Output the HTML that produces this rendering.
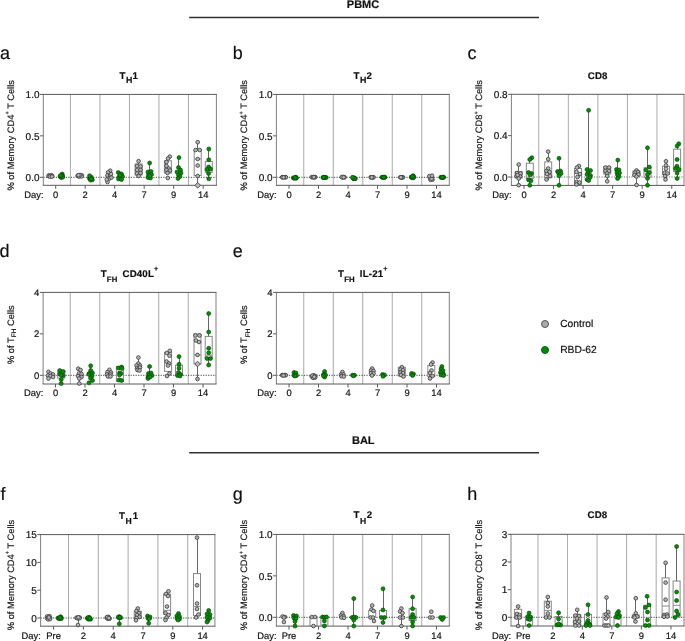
<!DOCTYPE html><html><head><meta charset="utf-8"><style>html,body{margin:0;padding:0;background:#fff;}svg{display:block;will-change:transform;}text{font-family:"Liberation Sans",sans-serif;fill:#111;stroke:#111;stroke-width:0.18px;text-rendering:geometricPrecision;}</style></head><body>
<svg width="685" height="641" viewBox="0 0 685 641">
<rect width="685" height="641" fill="#fff"/>
<line x1="70.45" y1="94.4" x2="70.45" y2="185.3" stroke="#aaa" stroke-width="1"/>
<line x1="99.95" y1="94.4" x2="99.95" y2="185.3" stroke="#aaa" stroke-width="1"/>
<line x1="129.45" y1="94.4" x2="129.45" y2="185.3" stroke="#aaa" stroke-width="1"/>
<line x1="158.95" y1="94.4" x2="158.95" y2="185.3" stroke="#aaa" stroke-width="1"/>
<line x1="188.45" y1="94.4" x2="188.45" y2="185.3" stroke="#aaa" stroke-width="1"/>
<line x1="43.3" y1="177.3" x2="216.4" y2="177.3" stroke="#333" stroke-width="0.9" stroke-dasharray="1.2 1.3"/>
<path d="M43.3 94.4V185.3M216.4 94.4V185.3" fill="none" stroke="#808080" stroke-width="1"/>
<path d="M42.8 94.4H216.9M42.8 185.3H216.9" fill="none" stroke="#5a5a5a" stroke-width="1"/>
<circle cx="48.88" cy="175.43" r="1.85" fill="#b5b5b5" stroke="#404040" stroke-width="0.85"/>
<circle cx="51.5" cy="175.3" r="1.85" fill="#b5b5b5" stroke="#404040" stroke-width="0.85"/>
<circle cx="52.2" cy="176.01" r="1.85" fill="#b5b5b5" stroke="#404040" stroke-width="0.85"/>
<circle cx="48.7" cy="176.14" r="1.85" fill="#b5b5b5" stroke="#404040" stroke-width="0.85"/>
<circle cx="50.45" cy="175.95" r="1.85" fill="#b5b5b5" stroke="#404040" stroke-width="0.85"/>
<circle cx="49.93" cy="176.6" r="1.85" fill="#b5b5b5" stroke="#404040" stroke-width="0.85"/>
<circle cx="52.03" cy="176.53" r="1.85" fill="#b5b5b5" stroke="#404040" stroke-width="0.85"/>
<circle cx="62.18" cy="174" r="2.0" fill="#009000" stroke="#043a04" stroke-width="0.6"/>
<circle cx="62.7" cy="175.93" r="2.0" fill="#009000" stroke="#043a04" stroke-width="0.6"/>
<circle cx="60.1" cy="176.28" r="2.0" fill="#009000" stroke="#043a04" stroke-width="0.6"/>
<circle cx="61.4" cy="175.75" r="2.0" fill="#009000" stroke="#043a04" stroke-width="0.6"/>
<circle cx="61.01" cy="177.5" r="2.0" fill="#009000" stroke="#043a04" stroke-width="0.6"/>
<circle cx="62.57" cy="177.32" r="2.0" fill="#009000" stroke="#043a04" stroke-width="0.6"/>
<circle cx="61.66" cy="175.4" r="2.0" fill="#009000" stroke="#043a04" stroke-width="0.6"/>
<circle cx="60.62" cy="175.57" r="2.0" fill="#009000" stroke="#043a04" stroke-width="0.6"/>
<circle cx="81.8" cy="175.43" r="1.85" fill="#b5b5b5" stroke="#404040" stroke-width="0.85"/>
<circle cx="77.6" cy="175.69" r="1.85" fill="#b5b5b5" stroke="#404040" stroke-width="0.85"/>
<circle cx="79.7" cy="175.3" r="1.85" fill="#b5b5b5" stroke="#404040" stroke-width="0.85"/>
<circle cx="79.07" cy="176.6" r="1.85" fill="#b5b5b5" stroke="#404040" stroke-width="0.85"/>
<circle cx="81.59" cy="176.47" r="1.85" fill="#b5b5b5" stroke="#404040" stroke-width="0.85"/>
<circle cx="80.12" cy="175.04" r="1.85" fill="#b5b5b5" stroke="#404040" stroke-width="0.85"/>
<circle cx="78.44" cy="175.17" r="1.85" fill="#b5b5b5" stroke="#404040" stroke-width="0.85"/>
<circle cx="89.4" cy="178.42" r="2.0" fill="#009000" stroke="#043a04" stroke-width="0.6"/>
<circle cx="90.95" cy="177.7" r="2.0" fill="#009000" stroke="#043a04" stroke-width="0.6"/>
<circle cx="90.48" cy="180.1" r="2.0" fill="#009000" stroke="#043a04" stroke-width="0.6"/>
<circle cx="92.34" cy="179.86" r="2.0" fill="#009000" stroke="#043a04" stroke-width="0.6"/>
<circle cx="91.26" cy="177.22" r="2.0" fill="#009000" stroke="#043a04" stroke-width="0.6"/>
<circle cx="90.02" cy="177.46" r="2.0" fill="#009000" stroke="#043a04" stroke-width="0.6"/>
<circle cx="91.57" cy="178.9" r="2.0" fill="#009000" stroke="#043a04" stroke-width="0.6"/>
<circle cx="89.56" cy="175.78" r="2.0" fill="#009000" stroke="#043a04" stroke-width="0.6"/>
<circle cx="110.2" cy="170.7" r="1.85" fill="#b5b5b5" stroke="#404040" stroke-width="0.85"/>
<circle cx="108" cy="172.5" r="1.85" fill="#b5b5b5" stroke="#404040" stroke-width="0.85"/>
<circle cx="107.5" cy="175.5" r="1.85" fill="#b5b5b5" stroke="#404040" stroke-width="0.85"/>
<circle cx="110" cy="176" r="1.85" fill="#b5b5b5" stroke="#404040" stroke-width="0.85"/>
<circle cx="109.5" cy="178.5" r="1.85" fill="#b5b5b5" stroke="#404040" stroke-width="0.85"/>
<circle cx="111.5" cy="177.5" r="1.85" fill="#b5b5b5" stroke="#404040" stroke-width="0.85"/>
<circle cx="107.5" cy="182" r="1.85" fill="#b5b5b5" stroke="#404040" stroke-width="0.85"/>
<circle cx="106.8" cy="179.5" r="1.85" fill="#b5b5b5" stroke="#404040" stroke-width="0.85"/>
<circle cx="111" cy="174" r="1.85" fill="#b5b5b5" stroke="#404040" stroke-width="0.85"/>
<circle cx="118.3" cy="172.5" r="2.0" fill="#009000" stroke="#043a04" stroke-width="0.6"/>
<circle cx="121.5" cy="174" r="2.0" fill="#009000" stroke="#043a04" stroke-width="0.6"/>
<circle cx="119" cy="177" r="2.0" fill="#009000" stroke="#043a04" stroke-width="0.6"/>
<circle cx="122.5" cy="176.5" r="2.0" fill="#009000" stroke="#043a04" stroke-width="0.6"/>
<circle cx="118.5" cy="179" r="2.0" fill="#009000" stroke="#043a04" stroke-width="0.6"/>
<circle cx="121.5" cy="179.5" r="2.0" fill="#009000" stroke="#043a04" stroke-width="0.6"/>
<circle cx="120" cy="175" r="2.0" fill="#009000" stroke="#043a04" stroke-width="0.6"/>
<rect x="135.1" y="164" width="7" height="11" fill="none" stroke="#888" stroke-width="1"/>
<line x1="138.5" y1="161.2" x2="138.5" y2="164" stroke="#666" stroke-width="1"/>
<circle cx="138.6" cy="161.2" r="1.85" fill="#b5b5b5" stroke="#404040" stroke-width="0.85"/>
<circle cx="137" cy="166" r="1.85" fill="#b5b5b5" stroke="#404040" stroke-width="0.85"/>
<circle cx="140.5" cy="166.5" r="1.85" fill="#b5b5b5" stroke="#404040" stroke-width="0.85"/>
<circle cx="137" cy="170" r="1.85" fill="#b5b5b5" stroke="#404040" stroke-width="0.85"/>
<circle cx="140.5" cy="170" r="1.85" fill="#b5b5b5" stroke="#404040" stroke-width="0.85"/>
<circle cx="137" cy="173.5" r="1.85" fill="#b5b5b5" stroke="#404040" stroke-width="0.85"/>
<circle cx="140.5" cy="173" r="1.85" fill="#b5b5b5" stroke="#404040" stroke-width="0.85"/>
<circle cx="138.6" cy="176" r="1.85" fill="#b5b5b5" stroke="#404040" stroke-width="0.85"/>
<line x1="149.5" y1="163" x2="149.5" y2="171" stroke="#666" stroke-width="1"/>
<circle cx="149.6" cy="163" r="2.0" fill="#009000" stroke="#043a04" stroke-width="0.6"/>
<circle cx="148" cy="172" r="2.0" fill="#009000" stroke="#043a04" stroke-width="0.6"/>
<circle cx="151" cy="171.5" r="2.0" fill="#009000" stroke="#043a04" stroke-width="0.6"/>
<circle cx="148.5" cy="175" r="2.0" fill="#009000" stroke="#043a04" stroke-width="0.6"/>
<circle cx="151.5" cy="174.5" r="2.0" fill="#009000" stroke="#043a04" stroke-width="0.6"/>
<circle cx="148" cy="177.5" r="2.0" fill="#009000" stroke="#043a04" stroke-width="0.6"/>
<circle cx="150.5" cy="178" r="2.0" fill="#009000" stroke="#043a04" stroke-width="0.6"/>
<circle cx="149.6" cy="176" r="2.0" fill="#009000" stroke="#043a04" stroke-width="0.6"/>
<rect x="164.4" y="160.8" width="7" height="12.3" fill="none" stroke="#888" stroke-width="1"/>
<circle cx="169.8" cy="156.6" r="1.85" fill="#b5b5b5" stroke="#404040" stroke-width="0.85"/>
<circle cx="168" cy="158.5" r="1.85" fill="#b5b5b5" stroke="#404040" stroke-width="0.85"/>
<circle cx="166.5" cy="162" r="1.85" fill="#b5b5b5" stroke="#404040" stroke-width="0.85"/>
<circle cx="166.5" cy="166" r="1.85" fill="#b5b5b5" stroke="#404040" stroke-width="0.85"/>
<circle cx="168.8" cy="168.5" r="1.85" fill="#b5b5b5" stroke="#404040" stroke-width="0.85"/>
<circle cx="166.5" cy="170" r="1.85" fill="#b5b5b5" stroke="#404040" stroke-width="0.85"/>
<circle cx="170" cy="170.5" r="1.85" fill="#b5b5b5" stroke="#404040" stroke-width="0.85"/>
<circle cx="167.5" cy="173" r="1.85" fill="#b5b5b5" stroke="#404040" stroke-width="0.85"/>
<circle cx="167.8" cy="178" r="1.85" fill="#b5b5b5" stroke="#404040" stroke-width="0.85"/>
<line x1="178.5" y1="157.6" x2="178.5" y2="168" stroke="#666" stroke-width="1"/>
<circle cx="179" cy="157.6" r="2.0" fill="#009000" stroke="#043a04" stroke-width="0.6"/>
<circle cx="178.5" cy="167.5" r="2.0" fill="#009000" stroke="#043a04" stroke-width="0.6"/>
<circle cx="180.5" cy="170" r="2.0" fill="#009000" stroke="#043a04" stroke-width="0.6"/>
<circle cx="177" cy="172" r="2.0" fill="#009000" stroke="#043a04" stroke-width="0.6"/>
<circle cx="181" cy="173" r="2.0" fill="#009000" stroke="#043a04" stroke-width="0.6"/>
<circle cx="178.5" cy="175" r="2.0" fill="#009000" stroke="#043a04" stroke-width="0.6"/>
<circle cx="180" cy="176.5" r="2.0" fill="#009000" stroke="#043a04" stroke-width="0.6"/>
<circle cx="178" cy="178.5" r="2.0" fill="#009000" stroke="#043a04" stroke-width="0.6"/>
<rect x="194.2" y="149.5" width="7" height="26" fill="none" stroke="#888" stroke-width="1"/>
<line x1="194.2" y1="159" x2="201.2" y2="159" stroke="#888" stroke-width="1"/>
<line x1="197.5" y1="142.2" x2="197.5" y2="149.5" stroke="#666" stroke-width="1"/>
<line x1="197.5" y1="175.5" x2="197.5" y2="185.3" stroke="#666" stroke-width="1"/>
<circle cx="197.7" cy="142.2" r="1.85" fill="#b5b5b5" stroke="#404040" stroke-width="0.85"/>
<circle cx="195.6" cy="150" r="1.85" fill="#b5b5b5" stroke="#404040" stroke-width="0.85"/>
<circle cx="199.7" cy="150" r="1.85" fill="#b5b5b5" stroke="#404040" stroke-width="0.85"/>
<circle cx="197.7" cy="159" r="1.85" fill="#b5b5b5" stroke="#404040" stroke-width="0.85"/>
<circle cx="197.7" cy="165.5" r="1.85" fill="#b5b5b5" stroke="#404040" stroke-width="0.85"/>
<circle cx="197.7" cy="176" r="1.85" fill="#b5b5b5" stroke="#404040" stroke-width="0.85"/>
<path d="M197.7 182.45L200.55 185.3L197.7 188.15L194.85 185.3Z" fill="#b5b5b5" stroke="#404040" stroke-width="0.85"/>
<rect x="205.3" y="161.4" width="7" height="10.9" fill="none" stroke="#888" stroke-width="1"/>
<line x1="205.3" y1="170" x2="212.3" y2="170" stroke="#888" stroke-width="1"/>
<line x1="208.5" y1="149" x2="208.5" y2="161.4" stroke="#666" stroke-width="1"/>
<line x1="208.5" y1="172.3" x2="208.5" y2="178.8" stroke="#666" stroke-width="1"/>
<circle cx="208.8" cy="149" r="2.0" fill="#009000" stroke="#043a04" stroke-width="0.6"/>
<circle cx="208.8" cy="159.8" r="2.0" fill="#009000" stroke="#043a04" stroke-width="0.6"/>
<circle cx="208.6" cy="167" r="2.0" fill="#009000" stroke="#043a04" stroke-width="0.6"/>
<circle cx="207" cy="169.5" r="2.0" fill="#009000" stroke="#043a04" stroke-width="0.6"/>
<circle cx="210.5" cy="169" r="2.0" fill="#009000" stroke="#043a04" stroke-width="0.6"/>
<circle cx="208.6" cy="173.5" r="2.0" fill="#009000" stroke="#043a04" stroke-width="0.6"/>
<circle cx="208.8" cy="178.8" r="2.0" fill="#009000" stroke="#043a04" stroke-width="0.6"/>
<line x1="40" y1="94.4" x2="43.3" y2="94.4" stroke="#5a5a5a" stroke-width="1"/>
<text x="39.5" y="98.2" text-anchor="end" font-size="10">1.0</text>
<line x1="40" y1="135.85" x2="43.3" y2="135.85" stroke="#5a5a5a" stroke-width="1"/>
<text x="39.5" y="139.65" text-anchor="end" font-size="10">0.5</text>
<line x1="40" y1="177.3" x2="43.3" y2="177.3" stroke="#5a5a5a" stroke-width="1"/>
<text x="39.5" y="181.1" text-anchor="end" font-size="10">0.0</text>
<line x1="55.7" y1="185.3" x2="55.7" y2="188.8" stroke="#5a5a5a" stroke-width="1"/>
<text x="55.7" y="197.8" text-anchor="middle" font-size="9.4">0</text>
<line x1="85.2" y1="185.3" x2="85.2" y2="188.8" stroke="#5a5a5a" stroke-width="1"/>
<text x="85.2" y="197.8" text-anchor="middle" font-size="9.4">2</text>
<line x1="114.7" y1="185.3" x2="114.7" y2="188.8" stroke="#5a5a5a" stroke-width="1"/>
<text x="114.7" y="197.8" text-anchor="middle" font-size="9.4">4</text>
<line x1="144.2" y1="185.3" x2="144.2" y2="188.8" stroke="#5a5a5a" stroke-width="1"/>
<text x="144.2" y="197.8" text-anchor="middle" font-size="9.4">7</text>
<line x1="173.7" y1="185.3" x2="173.7" y2="188.8" stroke="#5a5a5a" stroke-width="1"/>
<text x="173.7" y="197.8" text-anchor="middle" font-size="9.4">9</text>
<line x1="203.2" y1="185.3" x2="203.2" y2="188.8" stroke="#5a5a5a" stroke-width="1"/>
<text x="203.2" y="197.8" text-anchor="middle" font-size="9.4">14</text>
<text x="43.5" y="197.8" text-anchor="end" font-size="9.4">Day:</text>
<text x="128.75" y="79" text-anchor="middle" font-size="9.7" font-weight="bold" letter-spacing="0.15">T<tspan font-size="8.8" dy="3.7" dx="0.5">H</tspan><tspan dy="-3.7">1</tspan></text>
<text transform="translate(14,135.3) rotate(-90)" text-anchor="middle" font-size="9.3">% of Memory CD4<tspan font-size="5.6" dy="-4.6">+</tspan><tspan dy="4.6"> T Cells</tspan></text>
<text x="0" y="58.6" font-size="18">a</text>
<line x1="303.75" y1="94.4" x2="303.75" y2="185.3" stroke="#aaa" stroke-width="1"/>
<line x1="333.25" y1="94.4" x2="333.25" y2="185.3" stroke="#aaa" stroke-width="1"/>
<line x1="362.75" y1="94.4" x2="362.75" y2="185.3" stroke="#aaa" stroke-width="1"/>
<line x1="392.25" y1="94.4" x2="392.25" y2="185.3" stroke="#aaa" stroke-width="1"/>
<line x1="421.75" y1="94.4" x2="421.75" y2="185.3" stroke="#aaa" stroke-width="1"/>
<line x1="276.4" y1="177.3" x2="449.3" y2="177.3" stroke="#333" stroke-width="0.9" stroke-dasharray="1.2 1.3"/>
<path d="M276.4 94.4V185.3M449.3 94.4V185.3" fill="none" stroke="#808080" stroke-width="1"/>
<path d="M275.9 94.4H449.8M275.9 185.3H449.8" fill="none" stroke="#5a5a5a" stroke-width="1"/>
<circle cx="282.38" cy="177.17" r="1.85" fill="#b5b5b5" stroke="#404040" stroke-width="0.85"/>
<circle cx="285.16" cy="177.15" r="1.85" fill="#b5b5b5" stroke="#404040" stroke-width="0.85"/>
<circle cx="285.9" cy="177.26" r="1.85" fill="#b5b5b5" stroke="#404040" stroke-width="0.85"/>
<circle cx="282.2" cy="177.28" r="1.85" fill="#b5b5b5" stroke="#404040" stroke-width="0.85"/>
<circle cx="284.05" cy="177.25" r="1.85" fill="#b5b5b5" stroke="#404040" stroke-width="0.85"/>
<circle cx="283.5" cy="177.35" r="1.85" fill="#b5b5b5" stroke="#404040" stroke-width="0.85"/>
<circle cx="295.78" cy="177.2" r="2.0" fill="#009000" stroke="#043a04" stroke-width="0.6"/>
<circle cx="296.4" cy="177.81" r="2.0" fill="#009000" stroke="#043a04" stroke-width="0.6"/>
<circle cx="293.3" cy="177.91" r="2.0" fill="#009000" stroke="#043a04" stroke-width="0.6"/>
<circle cx="294.85" cy="177.75" r="2.0" fill="#009000" stroke="#043a04" stroke-width="0.6"/>
<circle cx="294.39" cy="178.3" r="2.0" fill="#009000" stroke="#043a04" stroke-width="0.6"/>
<circle cx="296.25" cy="178.25" r="2.0" fill="#009000" stroke="#043a04" stroke-width="0.6"/>
<circle cx="295.16" cy="177.64" r="2.0" fill="#009000" stroke="#043a04" stroke-width="0.6"/>
<circle cx="315.2" cy="177.11" r="1.85" fill="#b5b5b5" stroke="#404040" stroke-width="0.85"/>
<circle cx="311.7" cy="177.13" r="1.85" fill="#b5b5b5" stroke="#404040" stroke-width="0.85"/>
<circle cx="313.45" cy="177.1" r="1.85" fill="#b5b5b5" stroke="#404040" stroke-width="0.85"/>
<circle cx="312.93" cy="177.2" r="1.85" fill="#b5b5b5" stroke="#404040" stroke-width="0.85"/>
<circle cx="315.02" cy="177.19" r="1.85" fill="#b5b5b5" stroke="#404040" stroke-width="0.85"/>
<circle cx="313.8" cy="177.08" r="1.85" fill="#b5b5b5" stroke="#404040" stroke-width="0.85"/>
<circle cx="322.9" cy="177.46" r="2.0" fill="#009000" stroke="#043a04" stroke-width="0.6"/>
<circle cx="324.65" cy="177.4" r="2.0" fill="#009000" stroke="#043a04" stroke-width="0.6"/>
<circle cx="324.12" cy="177.6" r="2.0" fill="#009000" stroke="#043a04" stroke-width="0.6"/>
<circle cx="326.22" cy="177.58" r="2.0" fill="#009000" stroke="#043a04" stroke-width="0.6"/>
<circle cx="325" cy="177.36" r="2.0" fill="#009000" stroke="#043a04" stroke-width="0.6"/>
<circle cx="323.6" cy="177.38" r="2.0" fill="#009000" stroke="#043a04" stroke-width="0.6"/>
<circle cx="342.9" cy="177.1" r="1.85" fill="#b5b5b5" stroke="#404040" stroke-width="0.85"/>
<circle cx="342.33" cy="177.3" r="1.85" fill="#b5b5b5" stroke="#404040" stroke-width="0.85"/>
<circle cx="344.61" cy="177.28" r="1.85" fill="#b5b5b5" stroke="#404040" stroke-width="0.85"/>
<circle cx="343.28" cy="177.06" r="1.85" fill="#b5b5b5" stroke="#404040" stroke-width="0.85"/>
<circle cx="341.76" cy="177.08" r="1.85" fill="#b5b5b5" stroke="#404040" stroke-width="0.85"/>
<circle cx="343.66" cy="177.2" r="1.85" fill="#b5b5b5" stroke="#404040" stroke-width="0.85"/>
<circle cx="353.49" cy="178.8" r="2.0" fill="#009000" stroke="#043a04" stroke-width="0.6"/>
<circle cx="355.34" cy="178.72" r="2.0" fill="#009000" stroke="#043a04" stroke-width="0.6"/>
<circle cx="354.26" cy="177.84" r="2.0" fill="#009000" stroke="#043a04" stroke-width="0.6"/>
<circle cx="353.02" cy="177.92" r="2.0" fill="#009000" stroke="#043a04" stroke-width="0.6"/>
<circle cx="354.57" cy="178.4" r="2.0" fill="#009000" stroke="#043a04" stroke-width="0.6"/>
<circle cx="352.56" cy="177.36" r="2.0" fill="#009000" stroke="#043a04" stroke-width="0.6"/>
<circle cx="370.94" cy="177.26" r="1.85" fill="#b5b5b5" stroke="#404040" stroke-width="0.85"/>
<circle cx="373.04" cy="177.25" r="1.85" fill="#b5b5b5" stroke="#404040" stroke-width="0.85"/>
<circle cx="373.6" cy="177.31" r="1.85" fill="#b5b5b5" stroke="#404040" stroke-width="0.85"/>
<circle cx="370.8" cy="177.31" r="1.85" fill="#b5b5b5" stroke="#404040" stroke-width="0.85"/>
<circle cx="372.2" cy="177.3" r="1.85" fill="#b5b5b5" stroke="#404040" stroke-width="0.85"/>
<circle cx="371.78" cy="177.35" r="1.85" fill="#b5b5b5" stroke="#404040" stroke-width="0.85"/>
<circle cx="384.8" cy="177.31" r="2.0" fill="#009000" stroke="#043a04" stroke-width="0.6"/>
<circle cx="381.9" cy="177.31" r="2.0" fill="#009000" stroke="#043a04" stroke-width="0.6"/>
<circle cx="383.35" cy="177.3" r="2.0" fill="#009000" stroke="#043a04" stroke-width="0.6"/>
<circle cx="382.92" cy="177.35" r="2.0" fill="#009000" stroke="#043a04" stroke-width="0.6"/>
<circle cx="384.66" cy="177.34" r="2.0" fill="#009000" stroke="#043a04" stroke-width="0.6"/>
<circle cx="383.64" cy="177.29" r="2.0" fill="#009000" stroke="#043a04" stroke-width="0.6"/>
<circle cx="400.3" cy="177.31" r="1.85" fill="#b5b5b5" stroke="#404040" stroke-width="0.85"/>
<circle cx="401.75" cy="177.3" r="1.85" fill="#b5b5b5" stroke="#404040" stroke-width="0.85"/>
<circle cx="401.31" cy="177.35" r="1.85" fill="#b5b5b5" stroke="#404040" stroke-width="0.85"/>
<circle cx="403.06" cy="177.34" r="1.85" fill="#b5b5b5" stroke="#404040" stroke-width="0.85"/>
<circle cx="402.04" cy="177.29" r="1.85" fill="#b5b5b5" stroke="#404040" stroke-width="0.85"/>
<circle cx="400.88" cy="177.3" r="1.85" fill="#b5b5b5" stroke="#404040" stroke-width="0.85"/>
<circle cx="413.2" cy="175.7" r="2.0" fill="#009000" stroke="#043a04" stroke-width="0.6"/>
<circle cx="413.7" cy="176.85" r="2.0" fill="#009000" stroke="#043a04" stroke-width="0.6"/>
<circle cx="411.2" cy="177.06" r="2.0" fill="#009000" stroke="#043a04" stroke-width="0.6"/>
<circle cx="412.45" cy="176.75" r="2.0" fill="#009000" stroke="#043a04" stroke-width="0.6"/>
<circle cx="412.07" cy="177.8" r="2.0" fill="#009000" stroke="#043a04" stroke-width="0.6"/>
<circle cx="413.57" cy="177.69" r="2.0" fill="#009000" stroke="#043a04" stroke-width="0.6"/>
<circle cx="412.7" cy="176.54" r="2.0" fill="#009000" stroke="#043a04" stroke-width="0.6"/>
<circle cx="430.95" cy="177.75" r="1.85" fill="#b5b5b5" stroke="#404040" stroke-width="0.85"/>
<circle cx="430.43" cy="179.8" r="1.85" fill="#b5b5b5" stroke="#404040" stroke-width="0.85"/>
<circle cx="432.52" cy="179.59" r="1.85" fill="#b5b5b5" stroke="#404040" stroke-width="0.85"/>
<circle cx="431.3" cy="177.34" r="1.85" fill="#b5b5b5" stroke="#404040" stroke-width="0.85"/>
<circle cx="429.9" cy="177.54" r="1.85" fill="#b5b5b5" stroke="#404040" stroke-width="0.85"/>
<circle cx="431.65" cy="178.78" r="1.85" fill="#b5b5b5" stroke="#404040" stroke-width="0.85"/>
<circle cx="429.38" cy="176.11" r="1.85" fill="#b5b5b5" stroke="#404040" stroke-width="0.85"/>
<circle cx="432" cy="175.7" r="1.85" fill="#b5b5b5" stroke="#404040" stroke-width="0.85"/>
<circle cx="443.6" cy="177.31" r="2.0" fill="#009000" stroke="#043a04" stroke-width="0.6"/>
<circle cx="440.8" cy="177.31" r="2.0" fill="#009000" stroke="#043a04" stroke-width="0.6"/>
<circle cx="442.2" cy="177.3" r="2.0" fill="#009000" stroke="#043a04" stroke-width="0.6"/>
<circle cx="441.78" cy="177.35" r="2.0" fill="#009000" stroke="#043a04" stroke-width="0.6"/>
<circle cx="443.46" cy="177.34" r="2.0" fill="#009000" stroke="#043a04" stroke-width="0.6"/>
<circle cx="442.48" cy="177.29" r="2.0" fill="#009000" stroke="#043a04" stroke-width="0.6"/>
<line x1="273.1" y1="94.4" x2="276.4" y2="94.4" stroke="#5a5a5a" stroke-width="1"/>
<text x="272.6" y="98.2" text-anchor="end" font-size="10">1.0</text>
<line x1="273.1" y1="135.85" x2="276.4" y2="135.85" stroke="#5a5a5a" stroke-width="1"/>
<text x="272.6" y="139.65" text-anchor="end" font-size="10">0.5</text>
<line x1="273.1" y1="177.3" x2="276.4" y2="177.3" stroke="#5a5a5a" stroke-width="1"/>
<text x="272.6" y="181.1" text-anchor="end" font-size="10">0.0</text>
<line x1="289" y1="185.3" x2="289" y2="188.8" stroke="#5a5a5a" stroke-width="1"/>
<text x="289" y="197.8" text-anchor="middle" font-size="9.4">0</text>
<line x1="318.5" y1="185.3" x2="318.5" y2="188.8" stroke="#5a5a5a" stroke-width="1"/>
<text x="318.5" y="197.8" text-anchor="middle" font-size="9.4">2</text>
<line x1="348" y1="185.3" x2="348" y2="188.8" stroke="#5a5a5a" stroke-width="1"/>
<text x="348" y="197.8" text-anchor="middle" font-size="9.4">4</text>
<line x1="377.5" y1="185.3" x2="377.5" y2="188.8" stroke="#5a5a5a" stroke-width="1"/>
<text x="377.5" y="197.8" text-anchor="middle" font-size="9.4">7</text>
<line x1="407" y1="185.3" x2="407" y2="188.8" stroke="#5a5a5a" stroke-width="1"/>
<text x="407" y="197.8" text-anchor="middle" font-size="9.4">9</text>
<line x1="436.5" y1="185.3" x2="436.5" y2="188.8" stroke="#5a5a5a" stroke-width="1"/>
<text x="436.5" y="197.8" text-anchor="middle" font-size="9.4">14</text>
<text x="276.6" y="197.8" text-anchor="end" font-size="9.4">Day:</text>
<text x="362.85" y="79" text-anchor="middle" font-size="9.7" font-weight="bold" letter-spacing="0.15">T<tspan font-size="8.8" dy="3.7" dx="0.5">H</tspan><tspan dy="-3.7">2</tspan></text>
<text transform="translate(247.3,135.3) rotate(-90)" text-anchor="middle" font-size="9.3">% of Memory CD4<tspan font-size="5.6" dy="-4.6">+</tspan><tspan dy="4.6"> T Cells</tspan></text>
<text x="232.7" y="58.6" font-size="18">b</text>
<line x1="538.77" y1="94.3" x2="538.77" y2="185.4" stroke="#aaa" stroke-width="1"/>
<line x1="568.33" y1="94.3" x2="568.33" y2="185.4" stroke="#aaa" stroke-width="1"/>
<line x1="597.88" y1="94.3" x2="597.88" y2="185.4" stroke="#aaa" stroke-width="1"/>
<line x1="627.42" y1="94.3" x2="627.42" y2="185.4" stroke="#aaa" stroke-width="1"/>
<line x1="656.98" y1="94.3" x2="656.98" y2="185.4" stroke="#aaa" stroke-width="1"/>
<line x1="511.4" y1="177" x2="684" y2="177" stroke="#666" stroke-width="0.9" stroke-dasharray="1.2 1.3"/>
<path d="M511.4 94.3V185.4M684 94.3V185.4" fill="none" stroke="#808080" stroke-width="1"/>
<path d="M510.9 94.3H684.5M510.9 185.4H684.5" fill="none" stroke="#5a5a5a" stroke-width="1"/>
<rect x="515.2" y="171.5" width="7" height="6.5" fill="none" stroke="#888" stroke-width="1"/>
<line x1="518.5" y1="164.5" x2="518.5" y2="171.5" stroke="#666" stroke-width="1"/>
<line x1="518.5" y1="178" x2="518.5" y2="185.2" stroke="#666" stroke-width="1"/>
<circle cx="518.7" cy="164.5" r="1.85" fill="#b5b5b5" stroke="#404040" stroke-width="0.85"/>
<circle cx="517" cy="173" r="1.85" fill="#b5b5b5" stroke="#404040" stroke-width="0.85"/>
<circle cx="520.5" cy="173.5" r="1.85" fill="#b5b5b5" stroke="#404040" stroke-width="0.85"/>
<circle cx="516.5" cy="176" r="1.85" fill="#b5b5b5" stroke="#404040" stroke-width="0.85"/>
<circle cx="520" cy="176.5" r="1.85" fill="#b5b5b5" stroke="#404040" stroke-width="0.85"/>
<circle cx="518.7" cy="178.5" r="1.85" fill="#b5b5b5" stroke="#404040" stroke-width="0.85"/>
<circle cx="517.5" cy="175" r="1.85" fill="#b5b5b5" stroke="#404040" stroke-width="0.85"/>
<circle cx="518.7" cy="185.2" r="1.85" fill="#b5b5b5" stroke="#404040" stroke-width="0.85"/>
<rect x="526.3" y="163.2" width="7" height="15.3" fill="none" stroke="#888" stroke-width="1"/>
<line x1="529.5" y1="157.7" x2="529.5" y2="163.2" stroke="#666" stroke-width="1"/>
<line x1="529.5" y1="178.5" x2="529.5" y2="185.3" stroke="#666" stroke-width="1"/>
<circle cx="531.8" cy="157.7" r="2.0" fill="#009000" stroke="#043a04" stroke-width="0.6"/>
<circle cx="529.8" cy="159.5" r="2.0" fill="#009000" stroke="#043a04" stroke-width="0.6"/>
<circle cx="528.5" cy="172.5" r="2.0" fill="#009000" stroke="#043a04" stroke-width="0.6"/>
<circle cx="531.5" cy="173.5" r="2.0" fill="#009000" stroke="#043a04" stroke-width="0.6"/>
<circle cx="530" cy="175" r="2.0" fill="#009000" stroke="#043a04" stroke-width="0.6"/>
<circle cx="528.5" cy="179.8" r="2.0" fill="#009000" stroke="#043a04" stroke-width="0.6"/>
<circle cx="531" cy="180.8" r="2.0" fill="#009000" stroke="#043a04" stroke-width="0.6"/>
<circle cx="529.8" cy="185.3" r="2.0" fill="#009000" stroke="#043a04" stroke-width="0.6"/>
<rect x="544.7" y="161.9" width="7" height="15.8" fill="none" stroke="#888" stroke-width="1"/>
<line x1="548.5" y1="151.6" x2="548.5" y2="161.9" stroke="#666" stroke-width="1"/>
<line x1="548.5" y1="177.7" x2="548.5" y2="180" stroke="#666" stroke-width="1"/>
<circle cx="548.2" cy="151.6" r="1.85" fill="#b5b5b5" stroke="#404040" stroke-width="0.85"/>
<circle cx="548.2" cy="159.2" r="1.85" fill="#b5b5b5" stroke="#404040" stroke-width="0.85"/>
<circle cx="548.2" cy="168.5" r="1.85" fill="#b5b5b5" stroke="#404040" stroke-width="0.85"/>
<circle cx="546.5" cy="171" r="1.85" fill="#b5b5b5" stroke="#404040" stroke-width="0.85"/>
<circle cx="549.5" cy="172" r="1.85" fill="#b5b5b5" stroke="#404040" stroke-width="0.85"/>
<circle cx="547" cy="174" r="1.85" fill="#b5b5b5" stroke="#404040" stroke-width="0.85"/>
<circle cx="550" cy="176" r="1.85" fill="#b5b5b5" stroke="#404040" stroke-width="0.85"/>
<circle cx="546.5" cy="179.5" r="1.85" fill="#b5b5b5" stroke="#404040" stroke-width="0.85"/>
<line x1="559.5" y1="158.3" x2="559.5" y2="185.3" stroke="#666" stroke-width="1"/>
<circle cx="559" cy="158.3" r="2.0" fill="#009000" stroke="#043a04" stroke-width="0.6"/>
<circle cx="557.5" cy="171.5" r="2.0" fill="#009000" stroke="#043a04" stroke-width="0.6"/>
<circle cx="560.5" cy="171" r="2.0" fill="#009000" stroke="#043a04" stroke-width="0.6"/>
<circle cx="558.5" cy="173" r="2.0" fill="#009000" stroke="#043a04" stroke-width="0.6"/>
<circle cx="561" cy="173.5" r="2.0" fill="#009000" stroke="#043a04" stroke-width="0.6"/>
<circle cx="559" cy="175.8" r="2.0" fill="#009000" stroke="#043a04" stroke-width="0.6"/>
<circle cx="559" cy="185.3" r="2.0" fill="#009000" stroke="#043a04" stroke-width="0.6"/>
<rect x="574.5" y="168.5" width="7" height="16.1" fill="none" stroke="#888" stroke-width="1"/>
<circle cx="579" cy="166" r="1.85" fill="#b5b5b5" stroke="#404040" stroke-width="0.85"/>
<circle cx="577" cy="167.5" r="1.85" fill="#b5b5b5" stroke="#404040" stroke-width="0.85"/>
<circle cx="576.5" cy="172" r="1.85" fill="#b5b5b5" stroke="#404040" stroke-width="0.85"/>
<circle cx="580" cy="174" r="1.85" fill="#b5b5b5" stroke="#404040" stroke-width="0.85"/>
<circle cx="577.5" cy="177" r="1.85" fill="#b5b5b5" stroke="#404040" stroke-width="0.85"/>
<circle cx="576.5" cy="182" r="1.85" fill="#b5b5b5" stroke="#404040" stroke-width="0.85"/>
<circle cx="579.5" cy="182.5" r="1.85" fill="#b5b5b5" stroke="#404040" stroke-width="0.85"/>
<circle cx="576.5" cy="184.5" r="1.85" fill="#b5b5b5" stroke="#404040" stroke-width="0.85"/>
<line x1="588.5" y1="110.3" x2="588.5" y2="180.5" stroke="#666" stroke-width="1"/>
<circle cx="588.6" cy="110.3" r="2.0" fill="#009000" stroke="#043a04" stroke-width="0.6"/>
<circle cx="587" cy="169.5" r="2.0" fill="#009000" stroke="#043a04" stroke-width="0.6"/>
<circle cx="590.5" cy="170.5" r="2.0" fill="#009000" stroke="#043a04" stroke-width="0.6"/>
<circle cx="588" cy="173" r="2.0" fill="#009000" stroke="#043a04" stroke-width="0.6"/>
<circle cx="587" cy="174.5" r="2.0" fill="#009000" stroke="#043a04" stroke-width="0.6"/>
<circle cx="590.5" cy="175.5" r="2.0" fill="#009000" stroke="#043a04" stroke-width="0.6"/>
<circle cx="590" cy="177.5" r="2.0" fill="#009000" stroke="#043a04" stroke-width="0.6"/>
<circle cx="587" cy="179.5" r="2.0" fill="#009000" stroke="#043a04" stroke-width="0.6"/>
<circle cx="588.6" cy="180.5" r="2.0" fill="#009000" stroke="#043a04" stroke-width="0.6"/>
<rect x="603.7" y="166.7" width="7" height="7.3" fill="none" stroke="#888" stroke-width="1"/>
<line x1="607.5" y1="174" x2="607.5" y2="181.3" stroke="#666" stroke-width="1"/>
<circle cx="605.5" cy="167.5" r="1.85" fill="#b5b5b5" stroke="#404040" stroke-width="0.85"/>
<circle cx="609" cy="167.5" r="1.85" fill="#b5b5b5" stroke="#404040" stroke-width="0.85"/>
<circle cx="605.5" cy="171" r="1.85" fill="#b5b5b5" stroke="#404040" stroke-width="0.85"/>
<circle cx="609" cy="171" r="1.85" fill="#b5b5b5" stroke="#404040" stroke-width="0.85"/>
<circle cx="607" cy="173.5" r="1.85" fill="#b5b5b5" stroke="#404040" stroke-width="0.85"/>
<circle cx="607.2" cy="176" r="1.85" fill="#b5b5b5" stroke="#404040" stroke-width="0.85"/>
<circle cx="607.2" cy="181.3" r="1.85" fill="#b5b5b5" stroke="#404040" stroke-width="0.85"/>
<line x1="617.5" y1="160.1" x2="617.5" y2="170" stroke="#666" stroke-width="1"/>
<circle cx="617.8" cy="160.1" r="2.0" fill="#009000" stroke="#043a04" stroke-width="0.6"/>
<circle cx="616.5" cy="169.5" r="2.0" fill="#009000" stroke="#043a04" stroke-width="0.6"/>
<circle cx="619" cy="170" r="2.0" fill="#009000" stroke="#043a04" stroke-width="0.6"/>
<circle cx="617" cy="172.5" r="2.0" fill="#009000" stroke="#043a04" stroke-width="0.6"/>
<circle cx="619.5" cy="173" r="2.0" fill="#009000" stroke="#043a04" stroke-width="0.6"/>
<circle cx="617.5" cy="175" r="2.0" fill="#009000" stroke="#043a04" stroke-width="0.6"/>
<circle cx="619" cy="176.5" r="2.0" fill="#009000" stroke="#043a04" stroke-width="0.6"/>
<circle cx="617.5" cy="178.5" r="2.0" fill="#009000" stroke="#043a04" stroke-width="0.6"/>
<rect x="633" y="171" width="7" height="5" fill="none" stroke="#888" stroke-width="1"/>
<line x1="636.5" y1="170.5" x2="636.5" y2="171" stroke="#666" stroke-width="1"/>
<line x1="636.5" y1="176" x2="636.5" y2="185" stroke="#666" stroke-width="1"/>
<circle cx="636.5" cy="170.5" r="1.85" fill="#b5b5b5" stroke="#404040" stroke-width="0.85"/>
<circle cx="635" cy="172.5" r="1.85" fill="#b5b5b5" stroke="#404040" stroke-width="0.85"/>
<circle cx="638" cy="172" r="1.85" fill="#b5b5b5" stroke="#404040" stroke-width="0.85"/>
<circle cx="634.5" cy="175" r="1.85" fill="#b5b5b5" stroke="#404040" stroke-width="0.85"/>
<circle cx="638.5" cy="174.5" r="1.85" fill="#b5b5b5" stroke="#404040" stroke-width="0.85"/>
<circle cx="636.5" cy="176.5" r="1.85" fill="#b5b5b5" stroke="#404040" stroke-width="0.85"/>
<circle cx="636.5" cy="185" r="1.85" fill="#b5b5b5" stroke="#404040" stroke-width="0.85"/>
<rect x="644" y="167.7" width="7" height="9.5" fill="none" stroke="#888" stroke-width="1"/>
<line x1="647.5" y1="147.8" x2="647.5" y2="167.7" stroke="#666" stroke-width="1"/>
<line x1="647.5" y1="177.2" x2="647.5" y2="185.2" stroke="#666" stroke-width="1"/>
<circle cx="647.5" cy="147.8" r="2.0" fill="#009000" stroke="#043a04" stroke-width="0.6"/>
<circle cx="649.3" cy="167" r="2.0" fill="#009000" stroke="#043a04" stroke-width="0.6"/>
<circle cx="646" cy="170" r="2.0" fill="#009000" stroke="#043a04" stroke-width="0.6"/>
<circle cx="649.3" cy="172.5" r="2.0" fill="#009000" stroke="#043a04" stroke-width="0.6"/>
<circle cx="647.5" cy="174.5" r="2.0" fill="#009000" stroke="#043a04" stroke-width="0.6"/>
<circle cx="647.5" cy="178.3" r="2.0" fill="#009000" stroke="#043a04" stroke-width="0.6"/>
<circle cx="647.5" cy="185.2" r="2.0" fill="#009000" stroke="#043a04" stroke-width="0.6"/>
<rect x="662.5" y="166.3" width="7" height="8.2" fill="none" stroke="#888" stroke-width="1"/>
<line x1="666.5" y1="161.3" x2="666.5" y2="166.3" stroke="#666" stroke-width="1"/>
<line x1="666.5" y1="174.5" x2="666.5" y2="179.5" stroke="#666" stroke-width="1"/>
<circle cx="666" cy="161.3" r="1.85" fill="#b5b5b5" stroke="#404040" stroke-width="0.85"/>
<circle cx="666" cy="165.5" r="1.85" fill="#b5b5b5" stroke="#404040" stroke-width="0.85"/>
<circle cx="666" cy="168.8" r="1.85" fill="#b5b5b5" stroke="#404040" stroke-width="0.85"/>
<circle cx="664.5" cy="173" r="1.85" fill="#b5b5b5" stroke="#404040" stroke-width="0.85"/>
<circle cx="667.5" cy="173.5" r="1.85" fill="#b5b5b5" stroke="#404040" stroke-width="0.85"/>
<circle cx="665" cy="176" r="1.85" fill="#b5b5b5" stroke="#404040" stroke-width="0.85"/>
<circle cx="665.5" cy="179.5" r="1.85" fill="#b5b5b5" stroke="#404040" stroke-width="0.85"/>
<rect x="673.6" y="149.2" width="7" height="22.2" fill="none" stroke="#888" stroke-width="1"/>
<line x1="677.5" y1="143.8" x2="677.5" y2="149.2" stroke="#666" stroke-width="1"/>
<line x1="677.5" y1="171.4" x2="677.5" y2="178.5" stroke="#666" stroke-width="1"/>
<circle cx="678.8" cy="143.8" r="2.0" fill="#009000" stroke="#043a04" stroke-width="0.6"/>
<circle cx="677.1" cy="146" r="2.0" fill="#009000" stroke="#043a04" stroke-width="0.6"/>
<circle cx="677.1" cy="159.5" r="2.0" fill="#009000" stroke="#043a04" stroke-width="0.6"/>
<circle cx="677" cy="166.2" r="2.0" fill="#009000" stroke="#043a04" stroke-width="0.6"/>
<circle cx="675.5" cy="168.5" r="2.0" fill="#009000" stroke="#043a04" stroke-width="0.6"/>
<circle cx="679" cy="169.5" r="2.0" fill="#009000" stroke="#043a04" stroke-width="0.6"/>
<circle cx="677.1" cy="173" r="2.0" fill="#009000" stroke="#043a04" stroke-width="0.6"/>
<circle cx="677.1" cy="178.5" r="2.0" fill="#009000" stroke="#043a04" stroke-width="0.6"/>
<line x1="508.1" y1="94.3" x2="511.4" y2="94.3" stroke="#5a5a5a" stroke-width="1"/>
<text x="507.6" y="98.1" text-anchor="end" font-size="10">0.8</text>
<line x1="508.1" y1="135.65" x2="511.4" y2="135.65" stroke="#5a5a5a" stroke-width="1"/>
<text x="507.6" y="139.45" text-anchor="end" font-size="10">0.4</text>
<line x1="508.1" y1="177" x2="511.4" y2="177" stroke="#5a5a5a" stroke-width="1"/>
<text x="507.6" y="180.8" text-anchor="end" font-size="10">0.0</text>
<line x1="524" y1="185.4" x2="524" y2="188.9" stroke="#5a5a5a" stroke-width="1"/>
<text x="524" y="197.9" text-anchor="middle" font-size="9.4">0</text>
<line x1="553.55" y1="185.4" x2="553.55" y2="188.9" stroke="#5a5a5a" stroke-width="1"/>
<text x="553.55" y="197.9" text-anchor="middle" font-size="9.4">2</text>
<line x1="583.1" y1="185.4" x2="583.1" y2="188.9" stroke="#5a5a5a" stroke-width="1"/>
<text x="583.1" y="197.9" text-anchor="middle" font-size="9.4">4</text>
<line x1="612.65" y1="185.4" x2="612.65" y2="188.9" stroke="#5a5a5a" stroke-width="1"/>
<text x="612.65" y="197.9" text-anchor="middle" font-size="9.4">7</text>
<line x1="642.2" y1="185.4" x2="642.2" y2="188.9" stroke="#5a5a5a" stroke-width="1"/>
<text x="642.2" y="197.9" text-anchor="middle" font-size="9.4">9</text>
<line x1="671.75" y1="185.4" x2="671.75" y2="188.9" stroke="#5a5a5a" stroke-width="1"/>
<text x="671.75" y="197.9" text-anchor="middle" font-size="9.4">14</text>
<text x="511.6" y="197.9" text-anchor="end" font-size="9.4">Day:</text>
<text x="597.7" y="78.9" text-anchor="middle" font-size="9.7" font-weight="bold" letter-spacing="0.15">CD8</text>
<text transform="translate(482.3,135.3) rotate(-90)" text-anchor="middle" font-size="9.3">% of Memory CD8<tspan font-size="5.6" dy="-4.6">+</tspan><tspan dy="4.6"> T Cells</tspan></text>
<text x="467.5" y="58.6" font-size="18">c</text>
<line x1="70.25" y1="292.4" x2="70.25" y2="384" stroke="#aaa" stroke-width="1"/>
<line x1="99.75" y1="292.4" x2="99.75" y2="384" stroke="#aaa" stroke-width="1"/>
<line x1="129.25" y1="292.4" x2="129.25" y2="384" stroke="#aaa" stroke-width="1"/>
<line x1="158.75" y1="292.4" x2="158.75" y2="384" stroke="#aaa" stroke-width="1"/>
<line x1="188.25" y1="292.4" x2="188.25" y2="384" stroke="#aaa" stroke-width="1"/>
<line x1="43.1" y1="375.3" x2="216" y2="375.3" stroke="#333" stroke-width="0.9" stroke-dasharray="1.2 1.3"/>
<path d="M43.1 292.4V384M216 292.4V384" fill="none" stroke="#808080" stroke-width="1"/>
<path d="M42.6 292.4H216.5M42.6 384H216.5" fill="none" stroke="#5a5a5a" stroke-width="1"/>
<circle cx="48.5" cy="371.8" r="1.85" fill="#b5b5b5" stroke="#404040" stroke-width="0.85"/>
<circle cx="50.5" cy="373.5" r="1.85" fill="#b5b5b5" stroke="#404040" stroke-width="0.85"/>
<circle cx="53" cy="374.5" r="1.85" fill="#b5b5b5" stroke="#404040" stroke-width="0.85"/>
<circle cx="48" cy="375.5" r="1.85" fill="#b5b5b5" stroke="#404040" stroke-width="0.85"/>
<circle cx="50.5" cy="376" r="1.85" fill="#b5b5b5" stroke="#404040" stroke-width="0.85"/>
<circle cx="53" cy="377" r="1.85" fill="#b5b5b5" stroke="#404040" stroke-width="0.85"/>
<circle cx="48.5" cy="378.5" r="1.85" fill="#b5b5b5" stroke="#404040" stroke-width="0.85"/>
<rect x="57.7" y="371" width="7" height="7" fill="none" stroke="#888" stroke-width="1"/>
<line x1="61.5" y1="370.5" x2="61.5" y2="371" stroke="#666" stroke-width="1"/>
<line x1="61.5" y1="378" x2="61.5" y2="383.6" stroke="#666" stroke-width="1"/>
<circle cx="59.8" cy="370.5" r="2.0" fill="#009000" stroke="#043a04" stroke-width="0.6"/>
<circle cx="63.2" cy="371.5" r="2.0" fill="#009000" stroke="#043a04" stroke-width="0.6"/>
<circle cx="59.8" cy="374" r="2.0" fill="#009000" stroke="#043a04" stroke-width="0.6"/>
<circle cx="63.2" cy="375.5" r="2.0" fill="#009000" stroke="#043a04" stroke-width="0.6"/>
<circle cx="61.2" cy="375" r="2.0" fill="#009000" stroke="#043a04" stroke-width="0.6"/>
<circle cx="61.2" cy="379.5" r="2.0" fill="#009000" stroke="#043a04" stroke-width="0.6"/>
<circle cx="61.2" cy="383.6" r="2.0" fill="#009000" stroke="#043a04" stroke-width="0.6"/>
<line x1="79.5" y1="368.7" x2="79.5" y2="383.5" stroke="#666" stroke-width="1"/>
<circle cx="78.2" cy="368.7" r="1.85" fill="#b5b5b5" stroke="#404040" stroke-width="0.85"/>
<circle cx="80.5" cy="370" r="1.85" fill="#b5b5b5" stroke="#404040" stroke-width="0.85"/>
<circle cx="79" cy="373.5" r="1.85" fill="#b5b5b5" stroke="#404040" stroke-width="0.85"/>
<circle cx="81.5" cy="374" r="1.85" fill="#b5b5b5" stroke="#404040" stroke-width="0.85"/>
<circle cx="78" cy="376" r="1.85" fill="#b5b5b5" stroke="#404040" stroke-width="0.85"/>
<circle cx="81.5" cy="377" r="1.85" fill="#b5b5b5" stroke="#404040" stroke-width="0.85"/>
<circle cx="79.3" cy="378.5" r="1.85" fill="#b5b5b5" stroke="#404040" stroke-width="0.85"/>
<circle cx="79.3" cy="383.5" r="1.85" fill="#b5b5b5" stroke="#404040" stroke-width="0.85"/>
<line x1="90.5" y1="365.8" x2="90.5" y2="370.5" stroke="#666" stroke-width="1"/>
<circle cx="90.7" cy="365.8" r="2.0" fill="#009000" stroke="#043a04" stroke-width="0.6"/>
<circle cx="90.7" cy="370.5" r="2.0" fill="#009000" stroke="#043a04" stroke-width="0.6"/>
<circle cx="89" cy="373.5" r="2.0" fill="#009000" stroke="#043a04" stroke-width="0.6"/>
<circle cx="92.5" cy="373" r="2.0" fill="#009000" stroke="#043a04" stroke-width="0.6"/>
<circle cx="89" cy="374.5" r="2.0" fill="#009000" stroke="#043a04" stroke-width="0.6"/>
<circle cx="92" cy="376" r="2.0" fill="#009000" stroke="#043a04" stroke-width="0.6"/>
<circle cx="90.5" cy="378" r="2.0" fill="#009000" stroke="#043a04" stroke-width="0.6"/>
<circle cx="92.5" cy="380.5" r="2.0" fill="#009000" stroke="#043a04" stroke-width="0.6"/>
<circle cx="89" cy="382.8" r="2.0" fill="#009000" stroke="#043a04" stroke-width="0.6"/>
<circle cx="109.4" cy="369.8" r="1.85" fill="#b5b5b5" stroke="#404040" stroke-width="0.85"/>
<circle cx="107.5" cy="372" r="1.85" fill="#b5b5b5" stroke="#404040" stroke-width="0.85"/>
<circle cx="111" cy="372.5" r="1.85" fill="#b5b5b5" stroke="#404040" stroke-width="0.85"/>
<circle cx="107" cy="374.5" r="1.85" fill="#b5b5b5" stroke="#404040" stroke-width="0.85"/>
<circle cx="110.5" cy="374.5" r="1.85" fill="#b5b5b5" stroke="#404040" stroke-width="0.85"/>
<circle cx="108" cy="376.5" r="1.85" fill="#b5b5b5" stroke="#404040" stroke-width="0.85"/>
<circle cx="110.5" cy="376.5" r="1.85" fill="#b5b5b5" stroke="#404040" stroke-width="0.85"/>
<rect x="116.4" y="366.5" width="7" height="15" fill="none" stroke="#888" stroke-width="1"/>
<circle cx="118.5" cy="368" r="2.0" fill="#009000" stroke="#043a04" stroke-width="0.6"/>
<circle cx="121.5" cy="367" r="2.0" fill="#009000" stroke="#043a04" stroke-width="0.6"/>
<circle cx="122" cy="368.5" r="2.0" fill="#009000" stroke="#043a04" stroke-width="0.6"/>
<circle cx="119.5" cy="373" r="2.0" fill="#009000" stroke="#043a04" stroke-width="0.6"/>
<circle cx="121" cy="373.5" r="2.0" fill="#009000" stroke="#043a04" stroke-width="0.6"/>
<circle cx="119.5" cy="375" r="2.0" fill="#009000" stroke="#043a04" stroke-width="0.6"/>
<circle cx="119" cy="380" r="2.0" fill="#009000" stroke="#043a04" stroke-width="0.6"/>
<circle cx="121.5" cy="380.5" r="2.0" fill="#009000" stroke="#043a04" stroke-width="0.6"/>
<line x1="138.5" y1="357.5" x2="138.5" y2="363.5" stroke="#666" stroke-width="1"/>
<circle cx="138.4" cy="357.5" r="1.85" fill="#b5b5b5" stroke="#404040" stroke-width="0.85"/>
<circle cx="138.4" cy="363.5" r="1.85" fill="#b5b5b5" stroke="#404040" stroke-width="0.85"/>
<circle cx="136.5" cy="365.5" r="1.85" fill="#b5b5b5" stroke="#404040" stroke-width="0.85"/>
<circle cx="140" cy="365.5" r="1.85" fill="#b5b5b5" stroke="#404040" stroke-width="0.85"/>
<circle cx="137" cy="368.5" r="1.85" fill="#b5b5b5" stroke="#404040" stroke-width="0.85"/>
<circle cx="140" cy="367.5" r="1.85" fill="#b5b5b5" stroke="#404040" stroke-width="0.85"/>
<circle cx="137.5" cy="370" r="1.85" fill="#b5b5b5" stroke="#404040" stroke-width="0.85"/>
<circle cx="139.5" cy="370.5" r="1.85" fill="#b5b5b5" stroke="#404040" stroke-width="0.85"/>
<line x1="149.5" y1="366.5" x2="149.5" y2="373.5" stroke="#666" stroke-width="1"/>
<circle cx="149.6" cy="366.5" r="2.0" fill="#009000" stroke="#043a04" stroke-width="0.6"/>
<circle cx="148.5" cy="373.5" r="2.0" fill="#009000" stroke="#043a04" stroke-width="0.6"/>
<circle cx="151" cy="373" r="2.0" fill="#009000" stroke="#043a04" stroke-width="0.6"/>
<circle cx="149" cy="375.5" r="2.0" fill="#009000" stroke="#043a04" stroke-width="0.6"/>
<circle cx="152" cy="375.5" r="2.0" fill="#009000" stroke="#043a04" stroke-width="0.6"/>
<circle cx="148" cy="377.5" r="2.0" fill="#009000" stroke="#043a04" stroke-width="0.6"/>
<circle cx="148" cy="378.5" r="2.0" fill="#009000" stroke="#043a04" stroke-width="0.6"/>
<circle cx="150" cy="377" r="2.0" fill="#009000" stroke="#043a04" stroke-width="0.6"/>
<rect x="164.6" y="352.4" width="7" height="19" fill="none" stroke="#888" stroke-width="1"/>
<circle cx="169.8" cy="350.8" r="1.85" fill="#b5b5b5" stroke="#404040" stroke-width="0.85"/>
<circle cx="166.8" cy="353" r="1.85" fill="#b5b5b5" stroke="#404040" stroke-width="0.85"/>
<circle cx="169.5" cy="355.7" r="1.85" fill="#b5b5b5" stroke="#404040" stroke-width="0.85"/>
<circle cx="166.5" cy="361.5" r="1.85" fill="#b5b5b5" stroke="#404040" stroke-width="0.85"/>
<circle cx="169" cy="363.5" r="1.85" fill="#b5b5b5" stroke="#404040" stroke-width="0.85"/>
<circle cx="168" cy="365.5" r="1.85" fill="#b5b5b5" stroke="#404040" stroke-width="0.85"/>
<circle cx="169.5" cy="373.5" r="1.85" fill="#b5b5b5" stroke="#404040" stroke-width="0.85"/>
<circle cx="167" cy="376" r="1.85" fill="#b5b5b5" stroke="#404040" stroke-width="0.85"/>
<rect x="175.5" y="365.3" width="7" height="9.9" fill="none" stroke="#888" stroke-width="1"/>
<line x1="179.5" y1="356.6" x2="179.5" y2="365.3" stroke="#666" stroke-width="1"/>
<circle cx="179" cy="356.6" r="2.0" fill="#009000" stroke="#043a04" stroke-width="0.6"/>
<circle cx="179" cy="364.2" r="2.0" fill="#009000" stroke="#043a04" stroke-width="0.6"/>
<circle cx="179" cy="368.2" r="2.0" fill="#009000" stroke="#043a04" stroke-width="0.6"/>
<circle cx="178.5" cy="372.5" r="2.0" fill="#009000" stroke="#043a04" stroke-width="0.6"/>
<circle cx="180.5" cy="374.5" r="2.0" fill="#009000" stroke="#043a04" stroke-width="0.6"/>
<circle cx="177.5" cy="375.5" r="2.0" fill="#009000" stroke="#043a04" stroke-width="0.6"/>
<circle cx="180" cy="376" r="2.0" fill="#009000" stroke="#043a04" stroke-width="0.6"/>
<rect x="194" y="333.9" width="7" height="30.1" fill="none" stroke="#888" stroke-width="1"/>
<line x1="194" y1="354.9" x2="201" y2="354.9" stroke="#888" stroke-width="1"/>
<line x1="197.5" y1="364" x2="197.5" y2="379" stroke="#666" stroke-width="1"/>
<circle cx="195.5" cy="335.5" r="1.85" fill="#b5b5b5" stroke="#404040" stroke-width="0.85"/>
<circle cx="199.5" cy="335.5" r="1.85" fill="#b5b5b5" stroke="#404040" stroke-width="0.85"/>
<circle cx="196" cy="340.5" r="1.85" fill="#b5b5b5" stroke="#404040" stroke-width="0.85"/>
<circle cx="199" cy="342" r="1.85" fill="#b5b5b5" stroke="#404040" stroke-width="0.85"/>
<circle cx="197.5" cy="354.9" r="1.85" fill="#b5b5b5" stroke="#404040" stroke-width="0.85"/>
<path d="M197.5 361.15L200.35 364L197.5 366.85L194.65 364Z" fill="#b5b5b5" stroke="#404040" stroke-width="0.85"/>
<circle cx="197.5" cy="379" r="1.85" fill="#b5b5b5" stroke="#404040" stroke-width="0.85"/>
<rect x="205.2" y="336.4" width="7" height="21.5" fill="none" stroke="#888" stroke-width="1"/>
<line x1="205.2" y1="355.2" x2="212.2" y2="355.2" stroke="#888" stroke-width="1"/>
<line x1="208.5" y1="313.5" x2="208.5" y2="336.4" stroke="#666" stroke-width="1"/>
<line x1="208.5" y1="357.9" x2="208.5" y2="365" stroke="#666" stroke-width="1"/>
<circle cx="208.7" cy="313.5" r="2.0" fill="#009000" stroke="#043a04" stroke-width="0.6"/>
<circle cx="208.7" cy="332" r="2.0" fill="#009000" stroke="#043a04" stroke-width="0.6"/>
<circle cx="208.7" cy="348.3" r="2.0" fill="#009000" stroke="#043a04" stroke-width="0.6"/>
<circle cx="208.7" cy="352.8" r="2.0" fill="#009000" stroke="#043a04" stroke-width="0.6"/>
<circle cx="207" cy="358.5" r="2.0" fill="#009000" stroke="#043a04" stroke-width="0.6"/>
<circle cx="210.5" cy="358.5" r="2.0" fill="#009000" stroke="#043a04" stroke-width="0.6"/>
<circle cx="208.7" cy="365" r="2.0" fill="#009000" stroke="#043a04" stroke-width="0.6"/>
<line x1="39.8" y1="292.4" x2="43.1" y2="292.4" stroke="#5a5a5a" stroke-width="1"/>
<text x="39.3" y="296.01" text-anchor="end" font-size="9.5">4</text>
<line x1="39.8" y1="333.85" x2="43.1" y2="333.85" stroke="#5a5a5a" stroke-width="1"/>
<text x="39.3" y="337.46" text-anchor="end" font-size="9.5">2</text>
<line x1="39.8" y1="375.3" x2="43.1" y2="375.3" stroke="#5a5a5a" stroke-width="1"/>
<text x="39.3" y="378.91" text-anchor="end" font-size="9.5">0</text>
<line x1="55.5" y1="384" x2="55.5" y2="387.5" stroke="#5a5a5a" stroke-width="1"/>
<text x="55.5" y="395.5" text-anchor="middle" font-size="9.4">0</text>
<line x1="85" y1="384" x2="85" y2="387.5" stroke="#5a5a5a" stroke-width="1"/>
<text x="85" y="395.5" text-anchor="middle" font-size="9.4">2</text>
<line x1="114.5" y1="384" x2="114.5" y2="387.5" stroke="#5a5a5a" stroke-width="1"/>
<text x="114.5" y="395.5" text-anchor="middle" font-size="9.4">4</text>
<line x1="144" y1="384" x2="144" y2="387.5" stroke="#5a5a5a" stroke-width="1"/>
<text x="144" y="395.5" text-anchor="middle" font-size="9.4">7</text>
<line x1="173.5" y1="384" x2="173.5" y2="387.5" stroke="#5a5a5a" stroke-width="1"/>
<text x="173.5" y="395.5" text-anchor="middle" font-size="9.4">9</text>
<line x1="203" y1="384" x2="203" y2="387.5" stroke="#5a5a5a" stroke-width="1"/>
<text x="203" y="395.5" text-anchor="middle" font-size="9.4">14</text>
<text x="43.3" y="395.5" text-anchor="end" font-size="9.4">Day:</text>
<text x="129.55" y="276.5" text-anchor="middle" font-size="9.7" font-weight="bold" letter-spacing="0.15">T<tspan font-size="7.8" dy="5">FH</tspan><tspan dy="-5" dx="5">CD40L</tspan><tspan font-size="7.2" dy="-6">+</tspan></text>
<text transform="translate(13.7,334.7) rotate(-90)" text-anchor="middle" font-size="9.3">% of T<tspan font-size="6.5" dy="2.5">FH</tspan><tspan dy="-2.5"> Cells</tspan></text>
<text x="-0.5" y="257.2" font-size="18">d</text>
<line x1="303.75" y1="292.4" x2="303.75" y2="384" stroke="#aaa" stroke-width="1"/>
<line x1="333.25" y1="292.4" x2="333.25" y2="384" stroke="#aaa" stroke-width="1"/>
<line x1="362.75" y1="292.4" x2="362.75" y2="384" stroke="#aaa" stroke-width="1"/>
<line x1="392.25" y1="292.4" x2="392.25" y2="384" stroke="#aaa" stroke-width="1"/>
<line x1="421.75" y1="292.4" x2="421.75" y2="384" stroke="#aaa" stroke-width="1"/>
<line x1="276.4" y1="375.3" x2="449.3" y2="375.3" stroke="#333" stroke-width="0.9" stroke-dasharray="1.2 1.3"/>
<path d="M276.4 292.4V384M449.3 292.4V384" fill="none" stroke="#808080" stroke-width="1"/>
<path d="M275.9 292.4H449.8M275.9 384H449.8" fill="none" stroke="#5a5a5a" stroke-width="1"/>
<circle cx="282.38" cy="375.04" r="1.85" fill="#b5b5b5" stroke="#404040" stroke-width="0.85"/>
<circle cx="285.08" cy="375" r="1.85" fill="#b5b5b5" stroke="#404040" stroke-width="0.85"/>
<circle cx="285.8" cy="375.22" r="1.85" fill="#b5b5b5" stroke="#404040" stroke-width="0.85"/>
<circle cx="282.2" cy="375.26" r="1.85" fill="#b5b5b5" stroke="#404040" stroke-width="0.85"/>
<circle cx="284" cy="375.2" r="1.85" fill="#b5b5b5" stroke="#404040" stroke-width="0.85"/>
<circle cx="283.46" cy="375.4" r="1.85" fill="#b5b5b5" stroke="#404040" stroke-width="0.85"/>
<circle cx="294" cy="372.5" r="2.0" fill="#009000" stroke="#043a04" stroke-width="0.6"/>
<circle cx="296" cy="373" r="2.0" fill="#009000" stroke="#043a04" stroke-width="0.6"/>
<circle cx="294" cy="375.5" r="2.0" fill="#009000" stroke="#043a04" stroke-width="0.6"/>
<circle cx="296.5" cy="375.5" r="2.0" fill="#009000" stroke="#043a04" stroke-width="0.6"/>
<circle cx="295" cy="376" r="2.0" fill="#009000" stroke="#043a04" stroke-width="0.6"/>
<circle cx="315.3" cy="376" r="1.85" fill="#b5b5b5" stroke="#404040" stroke-width="0.85"/>
<circle cx="311.7" cy="376.4" r="1.85" fill="#b5b5b5" stroke="#404040" stroke-width="0.85"/>
<circle cx="313.5" cy="375.8" r="1.85" fill="#b5b5b5" stroke="#404040" stroke-width="0.85"/>
<circle cx="312.96" cy="377.8" r="1.85" fill="#b5b5b5" stroke="#404040" stroke-width="0.85"/>
<circle cx="315.12" cy="377.6" r="1.85" fill="#b5b5b5" stroke="#404040" stroke-width="0.85"/>
<circle cx="313.86" cy="375.4" r="1.85" fill="#b5b5b5" stroke="#404040" stroke-width="0.85"/>
<circle cx="312.42" cy="375.6" r="1.85" fill="#b5b5b5" stroke="#404040" stroke-width="0.85"/>
<circle cx="314.22" cy="376.8" r="1.85" fill="#b5b5b5" stroke="#404040" stroke-width="0.85"/>
<circle cx="324.6" cy="371.5" r="2.0" fill="#009000" stroke="#043a04" stroke-width="0.6"/>
<circle cx="323.5" cy="374.5" r="2.0" fill="#009000" stroke="#043a04" stroke-width="0.6"/>
<circle cx="325.5" cy="375" r="2.0" fill="#009000" stroke="#043a04" stroke-width="0.6"/>
<circle cx="324.6" cy="377" r="2.0" fill="#009000" stroke="#043a04" stroke-width="0.6"/>
<circle cx="323.5" cy="376" r="2.0" fill="#009000" stroke="#043a04" stroke-width="0.6"/>
<circle cx="342.4" cy="372" r="1.85" fill="#b5b5b5" stroke="#404040" stroke-width="0.85"/>
<circle cx="341" cy="374.5" r="1.85" fill="#b5b5b5" stroke="#404040" stroke-width="0.85"/>
<circle cx="343.5" cy="374.5" r="1.85" fill="#b5b5b5" stroke="#404040" stroke-width="0.85"/>
<circle cx="341.5" cy="376.2" r="1.85" fill="#b5b5b5" stroke="#404040" stroke-width="0.85"/>
<circle cx="343.8" cy="376.5" r="1.85" fill="#b5b5b5" stroke="#404040" stroke-width="0.85"/>
<circle cx="352.5" cy="375.2" r="2.0" fill="#009000" stroke="#043a04" stroke-width="0.6"/>
<circle cx="354.5" cy="375.2" r="2.0" fill="#009000" stroke="#043a04" stroke-width="0.6"/>
<circle cx="353.5" cy="375.8" r="2.0" fill="#009000" stroke="#043a04" stroke-width="0.6"/>
<circle cx="372.2" cy="368.5" r="1.85" fill="#b5b5b5" stroke="#404040" stroke-width="0.85"/>
<circle cx="371" cy="370.5" r="1.85" fill="#b5b5b5" stroke="#404040" stroke-width="0.85"/>
<circle cx="373.5" cy="371" r="1.85" fill="#b5b5b5" stroke="#404040" stroke-width="0.85"/>
<circle cx="371" cy="373" r="1.85" fill="#b5b5b5" stroke="#404040" stroke-width="0.85"/>
<circle cx="373.5" cy="373.5" r="1.85" fill="#b5b5b5" stroke="#404040" stroke-width="0.85"/>
<circle cx="372" cy="375.5" r="1.85" fill="#b5b5b5" stroke="#404040" stroke-width="0.85"/>
<circle cx="382.5" cy="374.5" r="2.0" fill="#009000" stroke="#043a04" stroke-width="0.6"/>
<circle cx="384.5" cy="375" r="2.0" fill="#009000" stroke="#043a04" stroke-width="0.6"/>
<circle cx="383" cy="376.3" r="2.0" fill="#009000" stroke="#043a04" stroke-width="0.6"/>
<rect x="398.3" y="367.2" width="7" height="8.8" fill="none" stroke="#888" stroke-width="1"/>
<circle cx="401.8" cy="367.2" r="1.85" fill="#b5b5b5" stroke="#404040" stroke-width="0.85"/>
<circle cx="400.5" cy="369.5" r="1.85" fill="#b5b5b5" stroke="#404040" stroke-width="0.85"/>
<circle cx="403" cy="370" r="1.85" fill="#b5b5b5" stroke="#404040" stroke-width="0.85"/>
<circle cx="400.5" cy="372.5" r="1.85" fill="#b5b5b5" stroke="#404040" stroke-width="0.85"/>
<circle cx="403" cy="373" r="1.85" fill="#b5b5b5" stroke="#404040" stroke-width="0.85"/>
<circle cx="401" cy="375" r="1.85" fill="#b5b5b5" stroke="#404040" stroke-width="0.85"/>
<circle cx="403.5" cy="376.5" r="1.85" fill="#b5b5b5" stroke="#404040" stroke-width="0.85"/>
<circle cx="411.5" cy="373.5" r="2.0" fill="#009000" stroke="#043a04" stroke-width="0.6"/>
<circle cx="413.5" cy="374" r="2.0" fill="#009000" stroke="#043a04" stroke-width="0.6"/>
<circle cx="412.5" cy="375.5" r="2.0" fill="#009000" stroke="#043a04" stroke-width="0.6"/>
<rect x="427.8" y="365.5" width="7" height="11" fill="none" stroke="#888" stroke-width="1"/>
<circle cx="432.5" cy="362.5" r="1.85" fill="#b5b5b5" stroke="#404040" stroke-width="0.85"/>
<circle cx="431" cy="364.5" r="1.85" fill="#b5b5b5" stroke="#404040" stroke-width="0.85"/>
<circle cx="431.5" cy="370.5" r="1.85" fill="#b5b5b5" stroke="#404040" stroke-width="0.85"/>
<circle cx="430" cy="373" r="1.85" fill="#b5b5b5" stroke="#404040" stroke-width="0.85"/>
<circle cx="432.5" cy="376" r="1.85" fill="#b5b5b5" stroke="#404040" stroke-width="0.85"/>
<circle cx="430" cy="378.5" r="1.85" fill="#b5b5b5" stroke="#404040" stroke-width="0.85"/>
<circle cx="441.9" cy="366.5" r="2.0" fill="#009000" stroke="#043a04" stroke-width="0.6"/>
<circle cx="441" cy="369" r="2.0" fill="#009000" stroke="#043a04" stroke-width="0.6"/>
<circle cx="443" cy="370.5" r="2.0" fill="#009000" stroke="#043a04" stroke-width="0.6"/>
<circle cx="440.5" cy="372.5" r="2.0" fill="#009000" stroke="#043a04" stroke-width="0.6"/>
<circle cx="443.5" cy="374" r="2.0" fill="#009000" stroke="#043a04" stroke-width="0.6"/>
<circle cx="441" cy="375" r="2.0" fill="#009000" stroke="#043a04" stroke-width="0.6"/>
<circle cx="443.5" cy="375.5" r="2.0" fill="#009000" stroke="#043a04" stroke-width="0.6"/>
<line x1="273.1" y1="292.4" x2="276.4" y2="292.4" stroke="#5a5a5a" stroke-width="1"/>
<text x="272.6" y="296.01" text-anchor="end" font-size="9.5">4</text>
<line x1="273.1" y1="333.85" x2="276.4" y2="333.85" stroke="#5a5a5a" stroke-width="1"/>
<text x="272.6" y="337.46" text-anchor="end" font-size="9.5">2</text>
<line x1="273.1" y1="375.3" x2="276.4" y2="375.3" stroke="#5a5a5a" stroke-width="1"/>
<text x="272.6" y="378.91" text-anchor="end" font-size="9.5">0</text>
<line x1="289" y1="384" x2="289" y2="387.5" stroke="#5a5a5a" stroke-width="1"/>
<text x="289" y="395.5" text-anchor="middle" font-size="9.4">0</text>
<line x1="318.5" y1="384" x2="318.5" y2="387.5" stroke="#5a5a5a" stroke-width="1"/>
<text x="318.5" y="395.5" text-anchor="middle" font-size="9.4">2</text>
<line x1="348" y1="384" x2="348" y2="387.5" stroke="#5a5a5a" stroke-width="1"/>
<text x="348" y="395.5" text-anchor="middle" font-size="9.4">4</text>
<line x1="377.5" y1="384" x2="377.5" y2="387.5" stroke="#5a5a5a" stroke-width="1"/>
<text x="377.5" y="395.5" text-anchor="middle" font-size="9.4">7</text>
<line x1="407" y1="384" x2="407" y2="387.5" stroke="#5a5a5a" stroke-width="1"/>
<text x="407" y="395.5" text-anchor="middle" font-size="9.4">9</text>
<line x1="436.5" y1="384" x2="436.5" y2="387.5" stroke="#5a5a5a" stroke-width="1"/>
<text x="436.5" y="395.5" text-anchor="middle" font-size="9.4">14</text>
<text x="276.6" y="395.5" text-anchor="end" font-size="9.4">Day:</text>
<text x="362.85" y="276.5" text-anchor="middle" font-size="9.7" font-weight="bold" letter-spacing="0.15">T<tspan font-size="7.8" dy="5">FH</tspan><tspan dy="-5" dx="5">IL-21</tspan><tspan font-size="7.2" dy="-6">+</tspan></text>
<text transform="translate(247.3,334.7) rotate(-90)" text-anchor="middle" font-size="9.3">% of T<tspan font-size="6.5" dy="2.5">FH</tspan><tspan dy="-2.5"> Cells</tspan></text>
<text x="232.7" y="257.2" font-size="18">e</text>
<line x1="68.5" y1="534.6" x2="68.5" y2="626.2" stroke="#aaa" stroke-width="1"/>
<line x1="98.3" y1="534.6" x2="98.3" y2="626.2" stroke="#aaa" stroke-width="1"/>
<line x1="128.1" y1="534.6" x2="128.1" y2="626.2" stroke="#aaa" stroke-width="1"/>
<line x1="157.9" y1="534.6" x2="157.9" y2="626.2" stroke="#aaa" stroke-width="1"/>
<line x1="187.7" y1="534.6" x2="187.7" y2="626.2" stroke="#aaa" stroke-width="1"/>
<line x1="40.6" y1="618" x2="214.9" y2="618" stroke="#333" stroke-width="0.9" stroke-dasharray="1.2 1.3"/>
<path d="M40.6 534.6V626.2M214.9 534.6V626.2" fill="none" stroke="#808080" stroke-width="1"/>
<path d="M40.1 534.6H215.4M40.1 626.2H215.4" fill="none" stroke="#5a5a5a" stroke-width="1"/>
<circle cx="47.15" cy="616.51" r="1.85" fill="#b5b5b5" stroke="#404040" stroke-width="0.85"/>
<circle cx="49.48" cy="616.2" r="1.85" fill="#b5b5b5" stroke="#404040" stroke-width="0.85"/>
<circle cx="50.1" cy="617.9" r="1.85" fill="#b5b5b5" stroke="#404040" stroke-width="0.85"/>
<circle cx="47" cy="618.22" r="1.85" fill="#b5b5b5" stroke="#404040" stroke-width="0.85"/>
<circle cx="48.55" cy="617.75" r="1.85" fill="#b5b5b5" stroke="#404040" stroke-width="0.85"/>
<circle cx="48.08" cy="619.3" r="1.85" fill="#b5b5b5" stroke="#404040" stroke-width="0.85"/>
<circle cx="49.95" cy="619.14" r="1.85" fill="#b5b5b5" stroke="#404040" stroke-width="0.85"/>
<circle cx="48.86" cy="617.44" r="1.85" fill="#b5b5b5" stroke="#404040" stroke-width="0.85"/>
<circle cx="60.64" cy="616.7" r="2.0" fill="#009000" stroke="#043a04" stroke-width="0.6"/>
<circle cx="61.3" cy="617.86" r="2.0" fill="#009000" stroke="#043a04" stroke-width="0.6"/>
<circle cx="58" cy="618.07" r="2.0" fill="#009000" stroke="#043a04" stroke-width="0.6"/>
<circle cx="59.65" cy="617.75" r="2.0" fill="#009000" stroke="#043a04" stroke-width="0.6"/>
<circle cx="59.16" cy="618.8" r="2.0" fill="#009000" stroke="#043a04" stroke-width="0.6"/>
<circle cx="61.13" cy="618.7" r="2.0" fill="#009000" stroke="#043a04" stroke-width="0.6"/>
<circle cx="59.98" cy="617.54" r="2.0" fill="#009000" stroke="#043a04" stroke-width="0.6"/>
<line x1="78.5" y1="618" x2="78.5" y2="625" stroke="#666" stroke-width="1"/>
<circle cx="79.7" cy="617.58" r="1.85" fill="#b5b5b5" stroke="#404040" stroke-width="0.85"/>
<circle cx="76.4" cy="617.74" r="1.85" fill="#b5b5b5" stroke="#404040" stroke-width="0.85"/>
<circle cx="78.05" cy="617.5" r="1.85" fill="#b5b5b5" stroke="#404040" stroke-width="0.85"/>
<circle cx="77.55" cy="618.3" r="1.85" fill="#b5b5b5" stroke="#404040" stroke-width="0.85"/>
<circle cx="79.53" cy="618.22" r="1.85" fill="#b5b5b5" stroke="#404040" stroke-width="0.85"/>
<circle cx="78.38" cy="617.34" r="1.85" fill="#b5b5b5" stroke="#404040" stroke-width="0.85"/>
<circle cx="78" cy="625" r="1.85" fill="#b5b5b5" stroke="#404040" stroke-width="0.85"/>
<circle cx="87.3" cy="618.22" r="2.0" fill="#009000" stroke="#043a04" stroke-width="0.6"/>
<circle cx="89.05" cy="617.75" r="2.0" fill="#009000" stroke="#043a04" stroke-width="0.6"/>
<circle cx="88.52" cy="619.3" r="2.0" fill="#009000" stroke="#043a04" stroke-width="0.6"/>
<circle cx="90.62" cy="619.14" r="2.0" fill="#009000" stroke="#043a04" stroke-width="0.6"/>
<circle cx="89.4" cy="617.44" r="2.0" fill="#009000" stroke="#043a04" stroke-width="0.6"/>
<circle cx="88" cy="617.6" r="2.0" fill="#009000" stroke="#043a04" stroke-width="0.6"/>
<circle cx="89.75" cy="618.52" r="2.0" fill="#009000" stroke="#043a04" stroke-width="0.6"/>
<circle cx="106.6" cy="617.72" r="1.85" fill="#b5b5b5" stroke="#404040" stroke-width="0.85"/>
<circle cx="108.2" cy="617.25" r="1.85" fill="#b5b5b5" stroke="#404040" stroke-width="0.85"/>
<circle cx="107.72" cy="618.8" r="1.85" fill="#b5b5b5" stroke="#404040" stroke-width="0.85"/>
<circle cx="109.64" cy="618.64" r="1.85" fill="#b5b5b5" stroke="#404040" stroke-width="0.85"/>
<circle cx="108.52" cy="616.94" r="1.85" fill="#b5b5b5" stroke="#404040" stroke-width="0.85"/>
<circle cx="107.24" cy="617.1" r="1.85" fill="#b5b5b5" stroke="#404040" stroke-width="0.85"/>
<circle cx="108.84" cy="618.02" r="1.85" fill="#b5b5b5" stroke="#404040" stroke-width="0.85"/>
<line x1="119.5" y1="618" x2="119.5" y2="623.8" stroke="#666" stroke-width="1"/>
<circle cx="119.3" cy="617" r="2.0" fill="#009000" stroke="#043a04" stroke-width="0.6"/>
<circle cx="118.85" cy="617.8" r="2.0" fill="#009000" stroke="#043a04" stroke-width="0.6"/>
<circle cx="120.65" cy="617.72" r="2.0" fill="#009000" stroke="#043a04" stroke-width="0.6"/>
<circle cx="119.6" cy="616.84" r="2.0" fill="#009000" stroke="#043a04" stroke-width="0.6"/>
<circle cx="118.4" cy="616.92" r="2.0" fill="#009000" stroke="#043a04" stroke-width="0.6"/>
<circle cx="119.9" cy="617.4" r="2.0" fill="#009000" stroke="#043a04" stroke-width="0.6"/>
<circle cx="119.3" cy="623.8" r="2.0" fill="#009000" stroke="#043a04" stroke-width="0.6"/>
<rect x="134.3" y="611.2" width="7" height="7.3" fill="none" stroke="#888" stroke-width="1"/>
<circle cx="137.8" cy="608.5" r="1.85" fill="#b5b5b5" stroke="#404040" stroke-width="0.85"/>
<circle cx="136.5" cy="611" r="1.85" fill="#b5b5b5" stroke="#404040" stroke-width="0.85"/>
<circle cx="139" cy="613" r="1.85" fill="#b5b5b5" stroke="#404040" stroke-width="0.85"/>
<circle cx="137" cy="615" r="1.85" fill="#b5b5b5" stroke="#404040" stroke-width="0.85"/>
<circle cx="139.5" cy="617" r="1.85" fill="#b5b5b5" stroke="#404040" stroke-width="0.85"/>
<circle cx="136.5" cy="618" r="1.85" fill="#b5b5b5" stroke="#404040" stroke-width="0.85"/>
<circle cx="136" cy="620.3" r="1.85" fill="#b5b5b5" stroke="#404040" stroke-width="0.85"/>
<line x1="148.5" y1="618" x2="148.5" y2="623.3" stroke="#666" stroke-width="1"/>
<circle cx="147.5" cy="616" r="2.0" fill="#009000" stroke="#043a04" stroke-width="0.6"/>
<circle cx="150" cy="617" r="2.0" fill="#009000" stroke="#043a04" stroke-width="0.6"/>
<circle cx="148" cy="618.5" r="2.0" fill="#009000" stroke="#043a04" stroke-width="0.6"/>
<circle cx="149.5" cy="618.5" r="2.0" fill="#009000" stroke="#043a04" stroke-width="0.6"/>
<circle cx="148.7" cy="623.3" r="2.0" fill="#009000" stroke="#043a04" stroke-width="0.6"/>
<rect x="163.6" y="594.2" width="7" height="20" fill="none" stroke="#888" stroke-width="1"/>
<line x1="163.6" y1="610.3" x2="170.6" y2="610.3" stroke="#888" stroke-width="1"/>
<circle cx="168.5" cy="591.3" r="1.85" fill="#b5b5b5" stroke="#404040" stroke-width="0.85"/>
<circle cx="166" cy="594" r="1.85" fill="#b5b5b5" stroke="#404040" stroke-width="0.85"/>
<circle cx="168" cy="596" r="1.85" fill="#b5b5b5" stroke="#404040" stroke-width="0.85"/>
<circle cx="167" cy="606.5" r="1.85" fill="#b5b5b5" stroke="#404040" stroke-width="0.85"/>
<circle cx="165.5" cy="613" r="1.85" fill="#b5b5b5" stroke="#404040" stroke-width="0.85"/>
<circle cx="168.5" cy="615" r="1.85" fill="#b5b5b5" stroke="#404040" stroke-width="0.85"/>
<circle cx="166.5" cy="617.5" r="1.85" fill="#b5b5b5" stroke="#404040" stroke-width="0.85"/>
<circle cx="165.5" cy="620" r="1.85" fill="#b5b5b5" stroke="#404040" stroke-width="0.85"/>
<circle cx="178.5" cy="613.5" r="2.0" fill="#009000" stroke="#043a04" stroke-width="0.6"/>
<circle cx="176.8" cy="616" r="2.0" fill="#009000" stroke="#043a04" stroke-width="0.6"/>
<circle cx="179.5" cy="616.5" r="2.0" fill="#009000" stroke="#043a04" stroke-width="0.6"/>
<circle cx="177" cy="618.5" r="2.0" fill="#009000" stroke="#043a04" stroke-width="0.6"/>
<circle cx="179.5" cy="619" r="2.0" fill="#009000" stroke="#043a04" stroke-width="0.6"/>
<circle cx="178" cy="620" r="2.0" fill="#009000" stroke="#043a04" stroke-width="0.6"/>
<rect x="193.5" y="573.6" width="7" height="41.8" fill="none" stroke="#888" stroke-width="1"/>
<line x1="193.5" y1="606.4" x2="200.5" y2="606.4" stroke="#888" stroke-width="1"/>
<line x1="197.5" y1="537.6" x2="197.5" y2="573.6" stroke="#666" stroke-width="1"/>
<circle cx="197" cy="537.6" r="1.85" fill="#b5b5b5" stroke="#404040" stroke-width="0.85"/>
<circle cx="197" cy="585.3" r="1.85" fill="#b5b5b5" stroke="#404040" stroke-width="0.85"/>
<circle cx="197" cy="603.5" r="1.85" fill="#b5b5b5" stroke="#404040" stroke-width="0.85"/>
<circle cx="197" cy="609" r="1.85" fill="#b5b5b5" stroke="#404040" stroke-width="0.85"/>
<circle cx="198.5" cy="614.5" r="1.85" fill="#b5b5b5" stroke="#404040" stroke-width="0.85"/>
<circle cx="196" cy="617.5" r="1.85" fill="#b5b5b5" stroke="#404040" stroke-width="0.85"/>
<circle cx="208.7" cy="610.5" r="2.0" fill="#009000" stroke="#043a04" stroke-width="0.6"/>
<circle cx="207" cy="614" r="2.0" fill="#009000" stroke="#043a04" stroke-width="0.6"/>
<circle cx="210" cy="614.5" r="2.0" fill="#009000" stroke="#043a04" stroke-width="0.6"/>
<circle cx="207" cy="617.5" r="2.0" fill="#009000" stroke="#043a04" stroke-width="0.6"/>
<circle cx="210" cy="618" r="2.0" fill="#009000" stroke="#043a04" stroke-width="0.6"/>
<circle cx="208" cy="620.5" r="2.0" fill="#009000" stroke="#043a04" stroke-width="0.6"/>
<circle cx="207" cy="622" r="2.0" fill="#009000" stroke="#043a04" stroke-width="0.6"/>
<line x1="37.3" y1="534.6" x2="40.6" y2="534.6" stroke="#5a5a5a" stroke-width="1"/>
<text x="36.8" y="538.4" text-anchor="end" font-size="10">15</text>
<line x1="37.3" y1="562.4" x2="40.6" y2="562.4" stroke="#5a5a5a" stroke-width="1"/>
<text x="36.8" y="566.2" text-anchor="end" font-size="10">10</text>
<line x1="37.3" y1="590.2" x2="40.6" y2="590.2" stroke="#5a5a5a" stroke-width="1"/>
<text x="36.8" y="594" text-anchor="end" font-size="10">5</text>
<line x1="37.3" y1="618" x2="40.6" y2="618" stroke="#5a5a5a" stroke-width="1"/>
<text x="36.8" y="621.8" text-anchor="end" font-size="10">0</text>
<line x1="53.6" y1="626.2" x2="53.6" y2="629.7" stroke="#5a5a5a" stroke-width="1"/>
<text x="53.6" y="638.7" text-anchor="middle" font-size="9.4">Pre</text>
<line x1="83.4" y1="626.2" x2="83.4" y2="629.7" stroke="#5a5a5a" stroke-width="1"/>
<text x="83.4" y="638.7" text-anchor="middle" font-size="9.4">2</text>
<line x1="113.2" y1="626.2" x2="113.2" y2="629.7" stroke="#5a5a5a" stroke-width="1"/>
<text x="113.2" y="638.7" text-anchor="middle" font-size="9.4">4</text>
<line x1="143" y1="626.2" x2="143" y2="629.7" stroke="#5a5a5a" stroke-width="1"/>
<text x="143" y="638.7" text-anchor="middle" font-size="9.4">7</text>
<line x1="172.8" y1="626.2" x2="172.8" y2="629.7" stroke="#5a5a5a" stroke-width="1"/>
<text x="172.8" y="638.7" text-anchor="middle" font-size="9.4">9</text>
<line x1="202.6" y1="626.2" x2="202.6" y2="629.7" stroke="#5a5a5a" stroke-width="1"/>
<text x="202.6" y="638.7" text-anchor="middle" font-size="9.4">14</text>
<text x="40.8" y="638.7" text-anchor="end" font-size="9.4">Day:</text>
<text x="128.6" y="518.6" text-anchor="middle" font-size="9.7" font-weight="bold" letter-spacing="0.15">T<tspan font-size="8.6" dy="5.2" dx="0.4">H</tspan><tspan dy="-5.2" dx="0.8">1</tspan></text>
<text transform="translate(14,575) rotate(-90)" text-anchor="middle" font-size="9.3">% of Memory CD4<tspan font-size="5.6" dy="-4.6">+</tspan><tspan dy="4.6"> T Cells</tspan></text>
<text x="0.5" y="499.7" font-size="18">f</text>
<line x1="303.75" y1="534.4" x2="303.75" y2="626.1" stroke="#aaa" stroke-width="1"/>
<line x1="333.25" y1="534.4" x2="333.25" y2="626.1" stroke="#aaa" stroke-width="1"/>
<line x1="362.75" y1="534.4" x2="362.75" y2="626.1" stroke="#aaa" stroke-width="1"/>
<line x1="392.25" y1="534.4" x2="392.25" y2="626.1" stroke="#aaa" stroke-width="1"/>
<line x1="421.75" y1="534.4" x2="421.75" y2="626.1" stroke="#aaa" stroke-width="1"/>
<line x1="276.4" y1="617.3" x2="449.3" y2="617.3" stroke="#333" stroke-width="0.9" stroke-dasharray="1.2 1.3"/>
<path d="M276.4 534.4V626.1M449.3 534.4V626.1" fill="none" stroke="#808080" stroke-width="1"/>
<path d="M275.9 534.4H449.8M275.9 626.1H449.8" fill="none" stroke="#5a5a5a" stroke-width="1"/>
<circle cx="282.5" cy="616.5" r="1.85" fill="#b5b5b5" stroke="#404040" stroke-width="0.85"/>
<circle cx="285" cy="617" r="1.85" fill="#b5b5b5" stroke="#404040" stroke-width="0.85"/>
<circle cx="283.9" cy="617.5" r="1.85" fill="#b5b5b5" stroke="#404040" stroke-width="0.85"/>
<circle cx="283.9" cy="622" r="1.85" fill="#b5b5b5" stroke="#404040" stroke-width="0.85"/>
<line x1="295.5" y1="618" x2="295.5" y2="626.1" stroke="#666" stroke-width="1"/>
<circle cx="293.5" cy="615.5" r="2.0" fill="#009000" stroke="#043a04" stroke-width="0.6"/>
<circle cx="296.5" cy="616" r="2.0" fill="#009000" stroke="#043a04" stroke-width="0.6"/>
<circle cx="294" cy="618" r="2.0" fill="#009000" stroke="#043a04" stroke-width="0.6"/>
<circle cx="296" cy="618.5" r="2.0" fill="#009000" stroke="#043a04" stroke-width="0.6"/>
<circle cx="295" cy="621.5" r="2.0" fill="#009000" stroke="#043a04" stroke-width="0.6"/>
<circle cx="295" cy="626.1" r="2.0" fill="#009000" stroke="#043a04" stroke-width="0.6"/>
<rect x="310" y="617" width="7" height="9" fill="none" stroke="#888" stroke-width="1"/>
<circle cx="311.8" cy="617" r="1.85" fill="#b5b5b5" stroke="#404040" stroke-width="0.85"/>
<circle cx="315" cy="617" r="1.85" fill="#b5b5b5" stroke="#404040" stroke-width="0.85"/>
<circle cx="313.5" cy="626" r="1.85" fill="#b5b5b5" stroke="#404040" stroke-width="0.85"/>
<rect x="320.9" y="617" width="7" height="8" fill="none" stroke="#888" stroke-width="1"/>
<circle cx="322.5" cy="617" r="2.0" fill="#009000" stroke="#043a04" stroke-width="0.6"/>
<circle cx="324.4" cy="617.2" r="2.0" fill="#009000" stroke="#043a04" stroke-width="0.6"/>
<circle cx="326.5" cy="617" r="2.0" fill="#009000" stroke="#043a04" stroke-width="0.6"/>
<circle cx="324.4" cy="621" r="2.0" fill="#009000" stroke="#043a04" stroke-width="0.6"/>
<circle cx="324.4" cy="626" r="2.0" fill="#009000" stroke="#043a04" stroke-width="0.6"/>
<circle cx="342.4" cy="613" r="1.85" fill="#b5b5b5" stroke="#404040" stroke-width="0.85"/>
<circle cx="341" cy="615.5" r="1.85" fill="#b5b5b5" stroke="#404040" stroke-width="0.85"/>
<circle cx="343.5" cy="616" r="1.85" fill="#b5b5b5" stroke="#404040" stroke-width="0.85"/>
<circle cx="341.5" cy="617.5" r="1.85" fill="#b5b5b5" stroke="#404040" stroke-width="0.85"/>
<circle cx="344" cy="617.8" r="1.85" fill="#b5b5b5" stroke="#404040" stroke-width="0.85"/>
<line x1="353.5" y1="598.6" x2="353.5" y2="626" stroke="#666" stroke-width="1"/>
<circle cx="353.8" cy="598.6" r="2.0" fill="#009000" stroke="#043a04" stroke-width="0.6"/>
<circle cx="352" cy="617.5" r="2.0" fill="#009000" stroke="#043a04" stroke-width="0.6"/>
<circle cx="354" cy="617" r="2.0" fill="#009000" stroke="#043a04" stroke-width="0.6"/>
<circle cx="356" cy="617.5" r="2.0" fill="#009000" stroke="#043a04" stroke-width="0.6"/>
<circle cx="353.8" cy="620" r="2.0" fill="#009000" stroke="#043a04" stroke-width="0.6"/>
<circle cx="353.8" cy="626" r="2.0" fill="#009000" stroke="#043a04" stroke-width="0.6"/>
<rect x="368.7" y="610.5" width="7" height="6.5" fill="none" stroke="#888" stroke-width="1"/>
<circle cx="372.2" cy="605.5" r="1.85" fill="#b5b5b5" stroke="#404040" stroke-width="0.85"/>
<circle cx="371.5" cy="609.5" r="1.85" fill="#b5b5b5" stroke="#404040" stroke-width="0.85"/>
<circle cx="373.5" cy="611" r="1.85" fill="#b5b5b5" stroke="#404040" stroke-width="0.85"/>
<circle cx="370.5" cy="617.5" r="1.85" fill="#b5b5b5" stroke="#404040" stroke-width="0.85"/>
<circle cx="373" cy="617.5" r="1.85" fill="#b5b5b5" stroke="#404040" stroke-width="0.85"/>
<circle cx="374" cy="621" r="1.85" fill="#b5b5b5" stroke="#404040" stroke-width="0.85"/>
<rect x="379.5" y="610.5" width="7" height="7" fill="none" stroke="#888" stroke-width="1"/>
<line x1="383.5" y1="588.8" x2="383.5" y2="610.5" stroke="#666" stroke-width="1"/>
<line x1="383.5" y1="617.5" x2="383.5" y2="622.5" stroke="#666" stroke-width="1"/>
<circle cx="383" cy="588.8" r="2.0" fill="#009000" stroke="#043a04" stroke-width="0.6"/>
<circle cx="383" cy="610" r="2.0" fill="#009000" stroke="#043a04" stroke-width="0.6"/>
<circle cx="381.5" cy="617.5" r="2.0" fill="#009000" stroke="#043a04" stroke-width="0.6"/>
<circle cx="384.5" cy="617.5" r="2.0" fill="#009000" stroke="#043a04" stroke-width="0.6"/>
<circle cx="383" cy="622.5" r="2.0" fill="#009000" stroke="#043a04" stroke-width="0.6"/>
<line x1="401.5" y1="608.5" x2="401.5" y2="626" stroke="#666" stroke-width="1"/>
<circle cx="401.4" cy="608.5" r="1.85" fill="#b5b5b5" stroke="#404040" stroke-width="0.85"/>
<circle cx="400" cy="611.5" r="1.85" fill="#b5b5b5" stroke="#404040" stroke-width="0.85"/>
<circle cx="402.5" cy="613" r="1.85" fill="#b5b5b5" stroke="#404040" stroke-width="0.85"/>
<circle cx="400" cy="617.5" r="1.85" fill="#b5b5b5" stroke="#404040" stroke-width="0.85"/>
<circle cx="403" cy="617.5" r="1.85" fill="#b5b5b5" stroke="#404040" stroke-width="0.85"/>
<circle cx="401.4" cy="626" r="1.85" fill="#b5b5b5" stroke="#404040" stroke-width="0.85"/>
<rect x="409.1" y="608.7" width="7" height="11.8" fill="none" stroke="#888" stroke-width="1"/>
<line x1="412.5" y1="597" x2="412.5" y2="608.7" stroke="#666" stroke-width="1"/>
<line x1="412.5" y1="620.5" x2="412.5" y2="626" stroke="#666" stroke-width="1"/>
<circle cx="412.6" cy="597" r="2.0" fill="#009000" stroke="#043a04" stroke-width="0.6"/>
<circle cx="412.6" cy="608.7" r="2.0" fill="#009000" stroke="#043a04" stroke-width="0.6"/>
<circle cx="412.6" cy="614.5" r="2.0" fill="#009000" stroke="#043a04" stroke-width="0.6"/>
<circle cx="411" cy="617.5" r="2.0" fill="#009000" stroke="#043a04" stroke-width="0.6"/>
<circle cx="414" cy="617.5" r="2.0" fill="#009000" stroke="#043a04" stroke-width="0.6"/>
<circle cx="412.6" cy="622" r="2.0" fill="#009000" stroke="#043a04" stroke-width="0.6"/>
<circle cx="412.6" cy="626" r="2.0" fill="#009000" stroke="#043a04" stroke-width="0.6"/>
<circle cx="431.3" cy="611.7" r="1.85" fill="#b5b5b5" stroke="#404040" stroke-width="0.85"/>
<circle cx="430" cy="617.5" r="1.85" fill="#b5b5b5" stroke="#404040" stroke-width="0.85"/>
<circle cx="432.5" cy="617.5" r="1.85" fill="#b5b5b5" stroke="#404040" stroke-width="0.85"/>
<circle cx="440.5" cy="617.5" r="2.0" fill="#009000" stroke="#043a04" stroke-width="0.6"/>
<circle cx="443.5" cy="617.5" r="2.0" fill="#009000" stroke="#043a04" stroke-width="0.6"/>
<circle cx="442.2" cy="619.5" r="2.0" fill="#009000" stroke="#043a04" stroke-width="0.6"/>
<line x1="273.1" y1="534.4" x2="276.4" y2="534.4" stroke="#5a5a5a" stroke-width="1"/>
<text x="272.6" y="538.2" text-anchor="end" font-size="10">1.0</text>
<line x1="273.1" y1="575.85" x2="276.4" y2="575.85" stroke="#5a5a5a" stroke-width="1"/>
<text x="272.6" y="579.65" text-anchor="end" font-size="10">0.5</text>
<line x1="273.1" y1="617.3" x2="276.4" y2="617.3" stroke="#5a5a5a" stroke-width="1"/>
<text x="272.6" y="621.1" text-anchor="end" font-size="10">0.0</text>
<line x1="289" y1="626.1" x2="289" y2="629.6" stroke="#5a5a5a" stroke-width="1"/>
<text x="289" y="638.6" text-anchor="middle" font-size="9.4">Pre</text>
<line x1="318.5" y1="626.1" x2="318.5" y2="629.6" stroke="#5a5a5a" stroke-width="1"/>
<text x="318.5" y="638.6" text-anchor="middle" font-size="9.4">2</text>
<line x1="348" y1="626.1" x2="348" y2="629.6" stroke="#5a5a5a" stroke-width="1"/>
<text x="348" y="638.6" text-anchor="middle" font-size="9.4">4</text>
<line x1="377.5" y1="626.1" x2="377.5" y2="629.6" stroke="#5a5a5a" stroke-width="1"/>
<text x="377.5" y="638.6" text-anchor="middle" font-size="9.4">7</text>
<line x1="407" y1="626.1" x2="407" y2="629.6" stroke="#5a5a5a" stroke-width="1"/>
<text x="407" y="638.6" text-anchor="middle" font-size="9.4">9</text>
<line x1="436.5" y1="626.1" x2="436.5" y2="629.6" stroke="#5a5a5a" stroke-width="1"/>
<text x="436.5" y="638.6" text-anchor="middle" font-size="9.4">14</text>
<text x="276.6" y="638.6" text-anchor="end" font-size="9.4">Day:</text>
<text x="362.85" y="518.4" text-anchor="middle" font-size="9.7" font-weight="bold" letter-spacing="0.15">T<tspan font-size="8.6" dy="5.2" dx="0.4">H</tspan><tspan dy="-5.2" dx="0.5">2</tspan></text>
<text transform="translate(247.3,575) rotate(-90)" text-anchor="middle" font-size="9.3">% of Memory CD4<tspan font-size="5.6" dy="-4.6">+</tspan><tspan dy="4.6"> T Cells</tspan></text>
<text x="232.7" y="499.7" font-size="18">g</text>
<line x1="537.98" y1="534.3" x2="537.98" y2="626" stroke="#aaa" stroke-width="1"/>
<line x1="567.53" y1="534.3" x2="567.53" y2="626" stroke="#aaa" stroke-width="1"/>
<line x1="597.08" y1="534.3" x2="597.08" y2="626" stroke="#aaa" stroke-width="1"/>
<line x1="626.62" y1="534.3" x2="626.62" y2="626" stroke="#aaa" stroke-width="1"/>
<line x1="656.18" y1="534.3" x2="656.18" y2="626" stroke="#aaa" stroke-width="1"/>
<line x1="511" y1="617.3" x2="684" y2="617.3" stroke="#333" stroke-width="0.9" stroke-dasharray="1.2 1.3"/>
<path d="M511 534.3V626M684 534.3V626" fill="none" stroke="#808080" stroke-width="1"/>
<path d="M510.5 534.3H684.5M510.5 626H684.5" fill="none" stroke="#5a5a5a" stroke-width="1"/>
<rect x="514.6" y="609.3" width="7" height="9.4" fill="none" stroke="#888" stroke-width="1"/>
<line x1="518.5" y1="606.5" x2="518.5" y2="609.3" stroke="#666" stroke-width="1"/>
<line x1="518.5" y1="618.7" x2="518.5" y2="626" stroke="#666" stroke-width="1"/>
<circle cx="518.1" cy="606.5" r="1.85" fill="#b5b5b5" stroke="#404040" stroke-width="0.85"/>
<circle cx="517" cy="614" r="1.85" fill="#b5b5b5" stroke="#404040" stroke-width="0.85"/>
<circle cx="519.5" cy="615" r="1.85" fill="#b5b5b5" stroke="#404040" stroke-width="0.85"/>
<circle cx="516.5" cy="617.5" r="1.85" fill="#b5b5b5" stroke="#404040" stroke-width="0.85"/>
<circle cx="519.5" cy="617.5" r="1.85" fill="#b5b5b5" stroke="#404040" stroke-width="0.85"/>
<circle cx="518.1" cy="626" r="1.85" fill="#b5b5b5" stroke="#404040" stroke-width="0.85"/>
<rect x="525.6" y="616.1" width="7" height="9.2" fill="none" stroke="#888" stroke-width="1"/>
<circle cx="529.1" cy="613" r="2.0" fill="#009000" stroke="#043a04" stroke-width="0.6"/>
<circle cx="528" cy="616.5" r="2.0" fill="#009000" stroke="#043a04" stroke-width="0.6"/>
<circle cx="530.5" cy="617" r="2.0" fill="#009000" stroke="#043a04" stroke-width="0.6"/>
<circle cx="528" cy="619" r="2.0" fill="#009000" stroke="#043a04" stroke-width="0.6"/>
<circle cx="530" cy="619.5" r="2.0" fill="#009000" stroke="#043a04" stroke-width="0.6"/>
<circle cx="529.1" cy="625.5" r="2.0" fill="#009000" stroke="#043a04" stroke-width="0.6"/>
<rect x="544.3" y="601.2" width="7" height="16.3" fill="none" stroke="#888" stroke-width="1"/>
<line x1="544.3" y1="610.4" x2="551.3" y2="610.4" stroke="#888" stroke-width="1"/>
<line x1="547.5" y1="597" x2="547.5" y2="601.2" stroke="#666" stroke-width="1"/>
<circle cx="547.8" cy="597" r="1.85" fill="#b5b5b5" stroke="#404040" stroke-width="0.85"/>
<circle cx="547.8" cy="603" r="1.85" fill="#b5b5b5" stroke="#404040" stroke-width="0.85"/>
<circle cx="547.8" cy="606.5" r="1.85" fill="#b5b5b5" stroke="#404040" stroke-width="0.85"/>
<circle cx="547.8" cy="613.5" r="1.85" fill="#b5b5b5" stroke="#404040" stroke-width="0.85"/>
<circle cx="546" cy="617.5" r="1.85" fill="#b5b5b5" stroke="#404040" stroke-width="0.85"/>
<circle cx="549.5" cy="617.5" r="1.85" fill="#b5b5b5" stroke="#404040" stroke-width="0.85"/>
<rect x="555.1" y="616.5" width="7" height="9" fill="none" stroke="#888" stroke-width="1"/>
<line x1="558.5" y1="612.8" x2="558.5" y2="616.5" stroke="#666" stroke-width="1"/>
<circle cx="558.6" cy="612.8" r="2.0" fill="#009000" stroke="#043a04" stroke-width="0.6"/>
<circle cx="558.6" cy="619" r="2.0" fill="#009000" stroke="#043a04" stroke-width="0.6"/>
<circle cx="557" cy="625" r="2.0" fill="#009000" stroke="#043a04" stroke-width="0.6"/>
<circle cx="560.5" cy="625" r="2.0" fill="#009000" stroke="#043a04" stroke-width="0.6"/>
<circle cx="558.6" cy="624" r="2.0" fill="#009000" stroke="#043a04" stroke-width="0.6"/>
<rect x="573.7" y="614.8" width="7" height="10.8" fill="none" stroke="#888" stroke-width="1"/>
<line x1="577.5" y1="609.8" x2="577.5" y2="614.8" stroke="#666" stroke-width="1"/>
<circle cx="577.2" cy="609.8" r="1.85" fill="#b5b5b5" stroke="#404040" stroke-width="0.85"/>
<circle cx="575.5" cy="615.5" r="1.85" fill="#b5b5b5" stroke="#404040" stroke-width="0.85"/>
<circle cx="579" cy="616" r="1.85" fill="#b5b5b5" stroke="#404040" stroke-width="0.85"/>
<circle cx="577" cy="618.5" r="1.85" fill="#b5b5b5" stroke="#404040" stroke-width="0.85"/>
<circle cx="575" cy="622" r="1.85" fill="#b5b5b5" stroke="#404040" stroke-width="0.85"/>
<circle cx="579" cy="621.5" r="1.85" fill="#b5b5b5" stroke="#404040" stroke-width="0.85"/>
<circle cx="575.5" cy="625.5" r="1.85" fill="#b5b5b5" stroke="#404040" stroke-width="0.85"/>
<circle cx="579" cy="625.5" r="1.85" fill="#b5b5b5" stroke="#404040" stroke-width="0.85"/>
<rect x="584.5" y="614.3" width="7" height="11.3" fill="none" stroke="#888" stroke-width="1"/>
<line x1="588.5" y1="604.8" x2="588.5" y2="614.3" stroke="#666" stroke-width="1"/>
<circle cx="588" cy="604.8" r="2.0" fill="#009000" stroke="#043a04" stroke-width="0.6"/>
<circle cx="588" cy="614.5" r="2.0" fill="#009000" stroke="#043a04" stroke-width="0.6"/>
<circle cx="588" cy="620.5" r="2.0" fill="#009000" stroke="#043a04" stroke-width="0.6"/>
<circle cx="587" cy="623" r="2.0" fill="#009000" stroke="#043a04" stroke-width="0.6"/>
<circle cx="589.5" cy="624" r="2.0" fill="#009000" stroke="#043a04" stroke-width="0.6"/>
<circle cx="586" cy="625.5" r="2.0" fill="#009000" stroke="#043a04" stroke-width="0.6"/>
<circle cx="590" cy="625.5" r="2.0" fill="#009000" stroke="#043a04" stroke-width="0.6"/>
<rect x="603" y="613.2" width="7" height="12.4" fill="none" stroke="#888" stroke-width="1"/>
<line x1="606.5" y1="597.5" x2="606.5" y2="613.2" stroke="#666" stroke-width="1"/>
<circle cx="606.5" cy="597.5" r="1.85" fill="#b5b5b5" stroke="#404040" stroke-width="0.85"/>
<circle cx="608.2" cy="612" r="1.85" fill="#b5b5b5" stroke="#404040" stroke-width="0.85"/>
<circle cx="606" cy="614.5" r="1.85" fill="#b5b5b5" stroke="#404040" stroke-width="0.85"/>
<circle cx="607.5" cy="616.5" r="1.85" fill="#b5b5b5" stroke="#404040" stroke-width="0.85"/>
<circle cx="606" cy="618.5" r="1.85" fill="#b5b5b5" stroke="#404040" stroke-width="0.85"/>
<circle cx="604.5" cy="625.5" r="1.85" fill="#b5b5b5" stroke="#404040" stroke-width="0.85"/>
<circle cx="606.5" cy="625.5" r="1.85" fill="#b5b5b5" stroke="#404040" stroke-width="0.85"/>
<circle cx="608.5" cy="625.5" r="1.85" fill="#b5b5b5" stroke="#404040" stroke-width="0.85"/>
<rect x="614" y="617" width="7" height="8.6" fill="none" stroke="#888" stroke-width="1"/>
<circle cx="618.5" cy="611.5" r="2.0" fill="#009000" stroke="#043a04" stroke-width="0.6"/>
<circle cx="617" cy="613.5" r="2.0" fill="#009000" stroke="#043a04" stroke-width="0.6"/>
<circle cx="619.5" cy="615.5" r="2.0" fill="#009000" stroke="#043a04" stroke-width="0.6"/>
<circle cx="616" cy="617" r="2.0" fill="#009000" stroke="#043a04" stroke-width="0.6"/>
<circle cx="618.5" cy="617.5" r="2.0" fill="#009000" stroke="#043a04" stroke-width="0.6"/>
<circle cx="617.5" cy="625.5" r="2.0" fill="#009000" stroke="#043a04" stroke-width="0.6"/>
<rect x="632.3" y="615" width="7" height="3" fill="none" stroke="#888" stroke-width="1"/>
<line x1="635.5" y1="598.2" x2="635.5" y2="615" stroke="#666" stroke-width="1"/>
<line x1="635.5" y1="618" x2="635.5" y2="621.5" stroke="#666" stroke-width="1"/>
<circle cx="635.8" cy="598.2" r="1.85" fill="#b5b5b5" stroke="#404040" stroke-width="0.85"/>
<circle cx="635.8" cy="613.4" r="1.85" fill="#b5b5b5" stroke="#404040" stroke-width="0.85"/>
<circle cx="634.5" cy="616" r="1.85" fill="#b5b5b5" stroke="#404040" stroke-width="0.85"/>
<circle cx="637" cy="616.5" r="1.85" fill="#b5b5b5" stroke="#404040" stroke-width="0.85"/>
<circle cx="634.5" cy="617.5" r="1.85" fill="#b5b5b5" stroke="#404040" stroke-width="0.85"/>
<circle cx="635.5" cy="621.5" r="1.85" fill="#b5b5b5" stroke="#404040" stroke-width="0.85"/>
<rect x="643.6" y="605.3" width="7" height="20.3" fill="none" stroke="#888" stroke-width="1"/>
<line x1="647.5" y1="596.3" x2="647.5" y2="605.3" stroke="#666" stroke-width="1"/>
<circle cx="647.1" cy="596.3" r="2.0" fill="#009000" stroke="#043a04" stroke-width="0.6"/>
<circle cx="649" cy="605" r="2.0" fill="#009000" stroke="#043a04" stroke-width="0.6"/>
<circle cx="645.5" cy="607.5" r="2.0" fill="#009000" stroke="#043a04" stroke-width="0.6"/>
<circle cx="647.5" cy="612" r="2.0" fill="#009000" stroke="#043a04" stroke-width="0.6"/>
<circle cx="647.5" cy="620" r="2.0" fill="#009000" stroke="#043a04" stroke-width="0.6"/>
<circle cx="645.5" cy="625.5" r="2.0" fill="#009000" stroke="#043a04" stroke-width="0.6"/>
<circle cx="649" cy="625.5" r="2.0" fill="#009000" stroke="#043a04" stroke-width="0.6"/>
<rect x="662.1" y="577.9" width="7" height="38.6" fill="none" stroke="#888" stroke-width="1"/>
<line x1="662.1" y1="606" x2="669.1" y2="606" stroke="#888" stroke-width="1"/>
<line x1="665.5" y1="562.8" x2="665.5" y2="577.9" stroke="#666" stroke-width="1"/>
<circle cx="665.6" cy="562.8" r="1.85" fill="#b5b5b5" stroke="#404040" stroke-width="0.85"/>
<circle cx="665.6" cy="582.6" r="1.85" fill="#b5b5b5" stroke="#404040" stroke-width="0.85"/>
<circle cx="665.6" cy="599.7" r="1.85" fill="#b5b5b5" stroke="#404040" stroke-width="0.85"/>
<circle cx="664" cy="615" r="1.85" fill="#b5b5b5" stroke="#404040" stroke-width="0.85"/>
<circle cx="667" cy="614.5" r="1.85" fill="#b5b5b5" stroke="#404040" stroke-width="0.85"/>
<circle cx="664" cy="616.8" r="1.85" fill="#b5b5b5" stroke="#404040" stroke-width="0.85"/>
<circle cx="667.5" cy="616.5" r="1.85" fill="#b5b5b5" stroke="#404040" stroke-width="0.85"/>
<rect x="673.1" y="581" width="7" height="36" fill="none" stroke="#888" stroke-width="1"/>
<line x1="673.1" y1="605.3" x2="680.1" y2="605.3" stroke="#888" stroke-width="1"/>
<line x1="676.5" y1="546.5" x2="676.5" y2="581" stroke="#666" stroke-width="1"/>
<circle cx="676.6" cy="546.5" r="2.0" fill="#009000" stroke="#043a04" stroke-width="0.6"/>
<circle cx="676.6" cy="592" r="2.0" fill="#009000" stroke="#043a04" stroke-width="0.6"/>
<circle cx="676.6" cy="600.5" r="2.0" fill="#009000" stroke="#043a04" stroke-width="0.6"/>
<circle cx="676.6" cy="611" r="2.0" fill="#009000" stroke="#043a04" stroke-width="0.6"/>
<circle cx="678" cy="614.5" r="2.0" fill="#009000" stroke="#043a04" stroke-width="0.6"/>
<circle cx="675" cy="617.5" r="2.0" fill="#009000" stroke="#043a04" stroke-width="0.6"/>
<line x1="507.7" y1="534.3" x2="511" y2="534.3" stroke="#5a5a5a" stroke-width="1"/>
<text x="507.2" y="538.1" text-anchor="end" font-size="10">3</text>
<line x1="507.7" y1="561.97" x2="511" y2="561.97" stroke="#5a5a5a" stroke-width="1"/>
<text x="507.2" y="565.77" text-anchor="end" font-size="10">2</text>
<line x1="507.7" y1="589.63" x2="511" y2="589.63" stroke="#5a5a5a" stroke-width="1"/>
<text x="507.2" y="593.43" text-anchor="end" font-size="10">1</text>
<line x1="507.7" y1="617.3" x2="511" y2="617.3" stroke="#5a5a5a" stroke-width="1"/>
<text x="507.2" y="621.1" text-anchor="end" font-size="10">0</text>
<line x1="523.2" y1="626" x2="523.2" y2="629.5" stroke="#5a5a5a" stroke-width="1"/>
<text x="523.2" y="638.5" text-anchor="middle" font-size="9.4">Pre</text>
<line x1="552.75" y1="626" x2="552.75" y2="629.5" stroke="#5a5a5a" stroke-width="1"/>
<text x="552.75" y="638.5" text-anchor="middle" font-size="9.4">2</text>
<line x1="582.3" y1="626" x2="582.3" y2="629.5" stroke="#5a5a5a" stroke-width="1"/>
<text x="582.3" y="638.5" text-anchor="middle" font-size="9.4">4</text>
<line x1="611.85" y1="626" x2="611.85" y2="629.5" stroke="#5a5a5a" stroke-width="1"/>
<text x="611.85" y="638.5" text-anchor="middle" font-size="9.4">7</text>
<line x1="641.4" y1="626" x2="641.4" y2="629.5" stroke="#5a5a5a" stroke-width="1"/>
<text x="641.4" y="638.5" text-anchor="middle" font-size="9.4">9</text>
<line x1="670.95" y1="626" x2="670.95" y2="629.5" stroke="#5a5a5a" stroke-width="1"/>
<text x="670.95" y="638.5" text-anchor="middle" font-size="9.4">14</text>
<text x="511.2" y="638.5" text-anchor="end" font-size="9.4">Day:</text>
<text x="597.5" y="518.3" text-anchor="middle" font-size="9.7" font-weight="bold" letter-spacing="0.15">CD8</text>
<text transform="translate(482.3,575) rotate(-90)" text-anchor="middle" font-size="9.3">% of Memory CD8<tspan font-size="5.6" dy="-4.6">+</tspan><tspan dy="4.6"> T Cells</tspan></text>
<text x="467.2" y="499.7" font-size="18">h</text>
<text x="363" y="8" text-anchor="middle" font-size="11" font-weight="bold">PBMC</text>
<line x1="189.2" y1="17.4" x2="539" y2="17.4" stroke="#333" stroke-width="1.5"/>
<text x="363.3" y="444" text-anchor="middle" font-size="11" font-weight="bold">BAL</text>
<line x1="189.2" y1="452.8" x2="539" y2="452.8" stroke="#333" stroke-width="1.5"/>
<circle cx="545" cy="324" r="3.5" fill="#aaa" stroke="#555" stroke-width="1"/>
<circle cx="545" cy="350" r="3.5" fill="#008a00" stroke="#062" stroke-width="1"/>
<text x="560.2" y="327.2" font-size="10.3">Control</text>
<text x="560.2" y="353" font-size="10.3">RBD-62</text>
</svg></body></html>
